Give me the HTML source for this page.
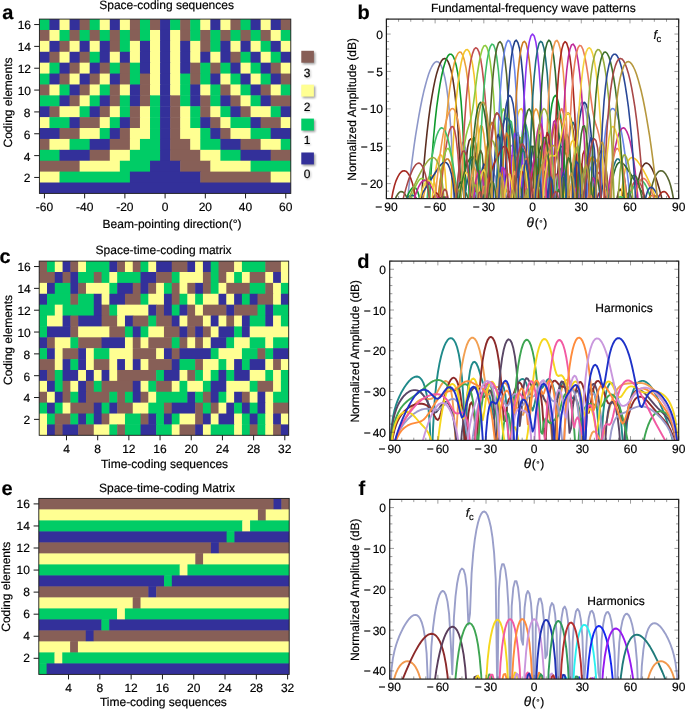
<!DOCTYPE html>
<html lang="en">
<head>
<meta charset="utf-8">
<title>Space-time-coding digital metasurfaces</title>
<style>
html,body{margin:0;padding:0;background:#fff;}
body{width:685px;height:709px;overflow:hidden;}
svg{display:block;font-family:'Liberation Sans', Arial, Helvetica, sans-serif;fill:#000;}
text{stroke:#000;stroke-width:0.18px;text-rendering:geometricPrecision;}
</style>
</head>
<body>
<svg width="685" height="709" viewBox="0 0 685 709">
<defs><filter id="bl" x="-30%" y="-30%" width="160%" height="160%"><feGaussianBlur stdDeviation="0.9"/></filter></defs>
<rect width="685" height="709" fill="#fff"/>
<g>
<rect x="39.40" y="19.10" width="10.56" height="11.39" fill="#00cc66"/>
<rect x="49.46" y="19.10" width="10.56" height="11.39" fill="#33309a"/>
<rect x="59.51" y="19.10" width="10.56" height="11.39" fill="#ffff92"/>
<rect x="69.57" y="19.10" width="10.56" height="11.39" fill="#33309a"/>
<rect x="79.62" y="19.10" width="10.56" height="11.39" fill="#875f57"/>
<rect x="89.68" y="19.10" width="10.56" height="11.39" fill="#00cc66"/>
<rect x="99.74" y="19.10" width="10.56" height="11.39" fill="#ffff92"/>
<rect x="109.79" y="19.10" width="10.56" height="11.39" fill="#33309a"/>
<rect x="119.85" y="19.10" width="10.56" height="11.39" fill="#ffff92"/>
<rect x="129.90" y="19.10" width="10.56" height="11.39" fill="#875f57"/>
<rect x="139.96" y="19.10" width="10.56" height="11.39" fill="#00cc66"/>
<rect x="150.02" y="19.10" width="10.56" height="11.39" fill="#875f57"/>
<rect x="160.07" y="19.10" width="10.56" height="11.39" fill="#33309a"/>
<rect x="170.13" y="19.10" width="10.56" height="11.39" fill="#00cc66"/>
<rect x="180.18" y="19.10" width="10.56" height="11.39" fill="#875f57"/>
<rect x="190.24" y="19.10" width="10.56" height="11.39" fill="#00cc66"/>
<rect x="200.30" y="19.10" width="10.56" height="11.39" fill="#ffff92"/>
<rect x="210.35" y="19.10" width="10.56" height="11.39" fill="#33309a"/>
<rect x="220.41" y="19.10" width="10.56" height="11.39" fill="#ffff92"/>
<rect x="230.46" y="19.10" width="10.56" height="11.39" fill="#875f57"/>
<rect x="240.52" y="19.10" width="10.56" height="11.39" fill="#00cc66"/>
<rect x="250.58" y="19.10" width="10.56" height="11.39" fill="#33309a"/>
<rect x="260.63" y="19.10" width="10.56" height="11.39" fill="#ffff92"/>
<rect x="270.69" y="19.10" width="10.56" height="11.39" fill="#33309a"/>
<rect x="280.74" y="19.10" width="10.06" height="11.39" fill="#875f57"/>
<rect x="39.40" y="29.99" width="10.56" height="11.39" fill="#875f57"/>
<rect x="49.46" y="29.99" width="10.56" height="11.39" fill="#ffff92"/>
<rect x="59.51" y="29.99" width="10.56" height="11.39" fill="#00cc66"/>
<rect x="69.57" y="29.99" width="10.56" height="11.39" fill="#875f57"/>
<rect x="79.62" y="29.99" width="10.56" height="11.39" fill="#00cc66"/>
<rect x="89.68" y="29.99" width="10.56" height="11.39" fill="#875f57"/>
<rect x="99.74" y="29.99" width="10.56" height="11.39" fill="#00cc66"/>
<rect x="109.79" y="29.99" width="10.56" height="11.39" fill="#875f57"/>
<rect x="119.85" y="29.99" width="10.56" height="11.39" fill="#00cc66"/>
<rect x="129.90" y="29.99" width="10.56" height="11.39" fill="#875f57"/>
<rect x="139.96" y="29.99" width="10.56" height="11.39" fill="#00cc66"/>
<rect x="150.02" y="29.99" width="10.56" height="11.39" fill="#ffff92"/>
<rect x="160.07" y="29.99" width="10.56" height="11.39" fill="#33309a"/>
<rect x="170.13" y="29.99" width="10.56" height="11.39" fill="#ffff92"/>
<rect x="180.18" y="29.99" width="10.56" height="11.39" fill="#875f57"/>
<rect x="190.24" y="29.99" width="10.56" height="11.39" fill="#00cc66"/>
<rect x="200.30" y="29.99" width="10.56" height="11.39" fill="#875f57"/>
<rect x="210.35" y="29.99" width="10.56" height="11.39" fill="#00cc66"/>
<rect x="220.41" y="29.99" width="10.56" height="11.39" fill="#875f57"/>
<rect x="230.46" y="29.99" width="10.56" height="11.39" fill="#00cc66"/>
<rect x="240.52" y="29.99" width="10.56" height="11.39" fill="#875f57"/>
<rect x="250.58" y="29.99" width="10.56" height="11.39" fill="#00cc66"/>
<rect x="260.63" y="29.99" width="10.56" height="11.39" fill="#875f57"/>
<rect x="270.69" y="29.99" width="10.56" height="11.39" fill="#ffff92"/>
<rect x="280.74" y="29.99" width="10.06" height="11.39" fill="#00cc66"/>
<rect x="39.40" y="40.89" width="10.56" height="11.39" fill="#ffff92"/>
<rect x="49.46" y="40.89" width="10.56" height="11.39" fill="#33309a"/>
<rect x="59.51" y="40.89" width="10.56" height="11.39" fill="#875f57"/>
<rect x="69.57" y="40.89" width="10.56" height="11.39" fill="#ffff92"/>
<rect x="79.62" y="40.89" width="10.56" height="11.39" fill="#33309a"/>
<rect x="89.68" y="40.89" width="10.56" height="11.39" fill="#ffff92"/>
<rect x="99.74" y="40.89" width="10.56" height="11.39" fill="#33309a"/>
<rect x="109.79" y="40.89" width="10.56" height="11.39" fill="#875f57"/>
<rect x="119.85" y="40.89" width="10.56" height="11.39" fill="#00cc66"/>
<rect x="129.90" y="40.89" width="10.56" height="11.39" fill="#ffff92"/>
<rect x="139.96" y="40.89" width="10.56" height="11.39" fill="#33309a"/>
<rect x="150.02" y="40.89" width="10.56" height="11.39" fill="#ffff92"/>
<rect x="160.07" y="40.89" width="10.56" height="11.39" fill="#33309a"/>
<rect x="170.13" y="40.89" width="10.56" height="11.39" fill="#ffff92"/>
<rect x="180.18" y="40.89" width="10.56" height="11.39" fill="#33309a"/>
<rect x="190.24" y="40.89" width="10.56" height="11.39" fill="#ffff92"/>
<rect x="200.30" y="40.89" width="10.56" height="11.39" fill="#875f57"/>
<rect x="210.35" y="40.89" width="10.56" height="11.39" fill="#00cc66"/>
<rect x="220.41" y="40.89" width="10.56" height="11.39" fill="#33309a"/>
<rect x="230.46" y="40.89" width="10.56" height="11.39" fill="#ffff92"/>
<rect x="240.52" y="40.89" width="10.56" height="11.39" fill="#33309a"/>
<rect x="250.58" y="40.89" width="10.56" height="11.39" fill="#ffff92"/>
<rect x="260.63" y="40.89" width="10.56" height="11.39" fill="#00cc66"/>
<rect x="270.69" y="40.89" width="10.56" height="11.39" fill="#33309a"/>
<rect x="280.74" y="40.89" width="10.06" height="11.39" fill="#ffff92"/>
<rect x="39.40" y="51.78" width="10.56" height="11.39" fill="#33309a"/>
<rect x="49.46" y="51.78" width="10.56" height="11.39" fill="#875f57"/>
<rect x="59.51" y="51.78" width="10.56" height="11.39" fill="#ffff92"/>
<rect x="69.57" y="51.78" width="10.56" height="11.39" fill="#33309a"/>
<rect x="79.62" y="51.78" width="10.56" height="11.39" fill="#875f57"/>
<rect x="89.68" y="51.78" width="10.56" height="11.39" fill="#00cc66"/>
<rect x="99.74" y="51.78" width="10.56" height="11.39" fill="#33309a"/>
<rect x="109.79" y="51.78" width="10.56" height="11.39" fill="#ffff92"/>
<rect x="119.85" y="51.78" width="10.56" height="11.39" fill="#33309a"/>
<rect x="129.90" y="51.78" width="10.56" height="11.39" fill="#ffff92"/>
<rect x="139.96" y="51.78" width="10.56" height="11.39" fill="#33309a"/>
<rect x="150.02" y="51.78" width="10.56" height="11.39" fill="#ffff92"/>
<rect x="160.07" y="51.78" width="10.56" height="11.39" fill="#33309a"/>
<rect x="170.13" y="51.78" width="10.56" height="11.39" fill="#ffff92"/>
<rect x="180.18" y="51.78" width="10.56" height="11.39" fill="#33309a"/>
<rect x="190.24" y="51.78" width="10.56" height="11.39" fill="#ffff92"/>
<rect x="200.30" y="51.78" width="10.56" height="11.39" fill="#33309a"/>
<rect x="210.35" y="51.78" width="10.56" height="11.39" fill="#ffff92"/>
<rect x="220.41" y="51.78" width="10.56" height="11.39" fill="#33309a"/>
<rect x="230.46" y="51.78" width="10.56" height="11.39" fill="#875f57"/>
<rect x="240.52" y="51.78" width="10.56" height="11.39" fill="#00cc66"/>
<rect x="250.58" y="51.78" width="10.56" height="11.39" fill="#33309a"/>
<rect x="260.63" y="51.78" width="10.56" height="11.39" fill="#ffff92"/>
<rect x="270.69" y="51.78" width="10.56" height="11.39" fill="#00cc66"/>
<rect x="280.74" y="51.78" width="10.06" height="11.39" fill="#33309a"/>
<rect x="39.40" y="62.67" width="10.56" height="11.39" fill="#ffff92"/>
<rect x="49.46" y="62.67" width="10.56" height="11.39" fill="#00cc66"/>
<rect x="59.51" y="62.67" width="10.56" height="11.39" fill="#33309a"/>
<rect x="69.57" y="62.67" width="10.56" height="11.39" fill="#875f57"/>
<rect x="79.62" y="62.67" width="10.56" height="11.39" fill="#ffff92"/>
<rect x="89.68" y="62.67" width="10.56" height="11.39" fill="#33309a"/>
<rect x="99.74" y="62.67" width="10.56" height="11.39" fill="#875f57"/>
<rect x="109.79" y="62.67" width="10.56" height="11.39" fill="#00cc66"/>
<rect x="119.85" y="62.67" width="10.56" height="11.39" fill="#875f57"/>
<rect x="129.90" y="62.67" width="10.56" height="11.39" fill="#00cc66"/>
<rect x="139.96" y="62.67" width="10.56" height="11.39" fill="#33309a"/>
<rect x="150.02" y="62.67" width="10.56" height="11.39" fill="#ffff92"/>
<rect x="160.07" y="62.67" width="10.56" height="11.39" fill="#33309a"/>
<rect x="170.13" y="62.67" width="10.56" height="11.39" fill="#ffff92"/>
<rect x="180.18" y="62.67" width="10.56" height="11.39" fill="#33309a"/>
<rect x="190.24" y="62.67" width="10.56" height="11.39" fill="#875f57"/>
<rect x="200.30" y="62.67" width="10.56" height="11.39" fill="#00cc66"/>
<rect x="210.35" y="62.67" width="10.56" height="11.39" fill="#875f57"/>
<rect x="220.41" y="62.67" width="10.56" height="11.39" fill="#00cc66"/>
<rect x="230.46" y="62.67" width="10.56" height="11.39" fill="#33309a"/>
<rect x="240.52" y="62.67" width="10.56" height="11.39" fill="#ffff92"/>
<rect x="250.58" y="62.67" width="10.56" height="11.39" fill="#00cc66"/>
<rect x="260.63" y="62.67" width="10.56" height="11.39" fill="#33309a"/>
<rect x="270.69" y="62.67" width="10.56" height="11.39" fill="#875f57"/>
<rect x="280.74" y="62.67" width="10.06" height="11.39" fill="#ffff92"/>
<rect x="39.40" y="73.57" width="10.56" height="11.39" fill="#00cc66"/>
<rect x="49.46" y="73.57" width="10.56" height="11.39" fill="#33309a"/>
<rect x="59.51" y="73.57" width="10.56" height="11.39" fill="#875f57"/>
<rect x="69.57" y="73.57" width="10.56" height="11.39" fill="#ffff92"/>
<rect x="79.62" y="73.57" width="10.56" height="11.39" fill="#33309a"/>
<rect x="89.68" y="73.57" width="10.56" height="11.39" fill="#875f57"/>
<rect x="99.74" y="73.57" width="10.56" height="11.39" fill="#ffff92"/>
<rect x="109.79" y="73.57" width="10.56" height="11.39" fill="#33309a"/>
<rect x="119.85" y="73.57" width="10.56" height="11.39" fill="#875f57"/>
<rect x="129.90" y="73.57" width="10.56" height="11.39" fill="#00cc66"/>
<rect x="139.96" y="73.57" width="10.56" height="11.39" fill="#875f57"/>
<rect x="150.02" y="73.57" width="10.56" height="11.39" fill="#ffff92"/>
<rect x="160.07" y="73.57" width="10.56" height="11.39" fill="#33309a"/>
<rect x="170.13" y="73.57" width="10.56" height="11.39" fill="#ffff92"/>
<rect x="180.18" y="73.57" width="10.56" height="11.39" fill="#00cc66"/>
<rect x="190.24" y="73.57" width="10.56" height="11.39" fill="#875f57"/>
<rect x="200.30" y="73.57" width="10.56" height="11.39" fill="#00cc66"/>
<rect x="210.35" y="73.57" width="10.56" height="11.39" fill="#33309a"/>
<rect x="220.41" y="73.57" width="10.56" height="11.39" fill="#ffff92"/>
<rect x="230.46" y="73.57" width="10.56" height="11.39" fill="#00cc66"/>
<rect x="240.52" y="73.57" width="10.56" height="11.39" fill="#33309a"/>
<rect x="250.58" y="73.57" width="10.56" height="11.39" fill="#ffff92"/>
<rect x="260.63" y="73.57" width="10.56" height="11.39" fill="#00cc66"/>
<rect x="270.69" y="73.57" width="10.56" height="11.39" fill="#33309a"/>
<rect x="280.74" y="73.57" width="10.06" height="11.39" fill="#875f57"/>
<rect x="39.40" y="84.46" width="10.56" height="11.39" fill="#875f57"/>
<rect x="49.46" y="84.46" width="10.56" height="11.39" fill="#ffff92"/>
<rect x="59.51" y="84.46" width="10.56" height="11.39" fill="#00cc66"/>
<rect x="69.57" y="84.46" width="10.56" height="11.39" fill="#33309a"/>
<rect x="79.62" y="84.46" width="10.56" height="11.39" fill="#875f57"/>
<rect x="89.68" y="84.46" width="10.56" height="11.39" fill="#ffff92"/>
<rect x="99.74" y="84.46" width="10.56" height="11.39" fill="#00cc66"/>
<rect x="109.79" y="84.46" width="10.56" height="11.39" fill="#875f57"/>
<rect x="119.85" y="84.46" width="10.56" height="11.39" fill="#ffff92"/>
<rect x="129.90" y="84.46" width="10.56" height="11.39" fill="#33309a"/>
<rect x="139.96" y="84.46" width="10.56" height="11.39" fill="#875f57"/>
<rect x="150.02" y="84.46" width="10.56" height="11.39" fill="#ffff92"/>
<rect x="160.07" y="84.46" width="10.56" height="11.39" fill="#33309a"/>
<rect x="170.13" y="84.46" width="10.56" height="11.39" fill="#ffff92"/>
<rect x="180.18" y="84.46" width="10.56" height="11.39" fill="#00cc66"/>
<rect x="190.24" y="84.46" width="10.56" height="11.39" fill="#33309a"/>
<rect x="200.30" y="84.46" width="10.56" height="11.39" fill="#ffff92"/>
<rect x="210.35" y="84.46" width="10.56" height="11.39" fill="#00cc66"/>
<rect x="220.41" y="84.46" width="10.56" height="11.39" fill="#875f57"/>
<rect x="230.46" y="84.46" width="10.56" height="11.39" fill="#ffff92"/>
<rect x="240.52" y="84.46" width="10.56" height="11.39" fill="#00cc66"/>
<rect x="250.58" y="84.46" width="10.56" height="11.39" fill="#33309a"/>
<rect x="260.63" y="84.46" width="10.56" height="11.39" fill="#875f57"/>
<rect x="270.69" y="84.46" width="10.56" height="11.39" fill="#ffff92"/>
<rect x="280.74" y="84.46" width="10.06" height="11.39" fill="#00cc66"/>
<rect x="39.40" y="95.36" width="20.61" height="11.39" fill="#00cc66"/>
<rect x="59.51" y="95.36" width="10.56" height="11.39" fill="#33309a"/>
<rect x="69.57" y="95.36" width="10.56" height="11.39" fill="#875f57"/>
<rect x="79.62" y="95.36" width="10.56" height="11.39" fill="#ffff92"/>
<rect x="89.68" y="95.36" width="10.56" height="11.39" fill="#00cc66"/>
<rect x="99.74" y="95.36" width="10.56" height="11.39" fill="#33309a"/>
<rect x="109.79" y="95.36" width="10.56" height="11.39" fill="#875f57"/>
<rect x="119.85" y="95.36" width="10.56" height="11.39" fill="#00cc66"/>
<rect x="129.90" y="95.36" width="10.56" height="11.39" fill="#33309a"/>
<rect x="139.96" y="95.36" width="10.56" height="11.39" fill="#875f57"/>
<rect x="150.02" y="95.36" width="10.56" height="11.39" fill="#00cc66"/>
<rect x="160.07" y="95.36" width="10.56" height="11.39" fill="#33309a"/>
<rect x="170.13" y="95.36" width="10.56" height="11.39" fill="#875f57"/>
<rect x="180.18" y="95.36" width="10.56" height="11.39" fill="#00cc66"/>
<rect x="190.24" y="95.36" width="10.56" height="11.39" fill="#33309a"/>
<rect x="200.30" y="95.36" width="10.56" height="11.39" fill="#875f57"/>
<rect x="210.35" y="95.36" width="10.56" height="11.39" fill="#00cc66"/>
<rect x="220.41" y="95.36" width="10.56" height="11.39" fill="#33309a"/>
<rect x="230.46" y="95.36" width="10.56" height="11.39" fill="#875f57"/>
<rect x="240.52" y="95.36" width="10.56" height="11.39" fill="#ffff92"/>
<rect x="250.58" y="95.36" width="10.56" height="11.39" fill="#00cc66"/>
<rect x="260.63" y="95.36" width="10.56" height="11.39" fill="#33309a"/>
<rect x="270.69" y="95.36" width="20.11" height="11.39" fill="#875f57"/>
<rect x="39.40" y="106.25" width="10.56" height="11.39" fill="#33309a"/>
<rect x="49.46" y="106.25" width="10.56" height="11.39" fill="#875f57"/>
<rect x="59.51" y="106.25" width="20.61" height="11.39" fill="#ffff92"/>
<rect x="79.62" y="106.25" width="10.56" height="11.39" fill="#00cc66"/>
<rect x="89.68" y="106.25" width="10.56" height="11.39" fill="#33309a"/>
<rect x="99.74" y="106.25" width="10.56" height="11.39" fill="#875f57"/>
<rect x="109.79" y="106.25" width="10.56" height="11.39" fill="#ffff92"/>
<rect x="119.85" y="106.25" width="10.56" height="11.39" fill="#00cc66"/>
<rect x="129.90" y="106.25" width="10.56" height="11.39" fill="#875f57"/>
<rect x="139.96" y="106.25" width="10.56" height="11.39" fill="#ffff92"/>
<rect x="150.02" y="106.25" width="10.56" height="11.39" fill="#00cc66"/>
<rect x="160.07" y="106.25" width="10.56" height="11.39" fill="#33309a"/>
<rect x="170.13" y="106.25" width="10.56" height="11.39" fill="#875f57"/>
<rect x="180.18" y="106.25" width="10.56" height="11.39" fill="#ffff92"/>
<rect x="190.24" y="106.25" width="10.56" height="11.39" fill="#00cc66"/>
<rect x="200.30" y="106.25" width="10.56" height="11.39" fill="#875f57"/>
<rect x="210.35" y="106.25" width="10.56" height="11.39" fill="#ffff92"/>
<rect x="220.41" y="106.25" width="10.56" height="11.39" fill="#00cc66"/>
<rect x="230.46" y="106.25" width="10.56" height="11.39" fill="#33309a"/>
<rect x="240.52" y="106.25" width="10.56" height="11.39" fill="#875f57"/>
<rect x="250.58" y="106.25" width="20.61" height="11.39" fill="#ffff92"/>
<rect x="270.69" y="106.25" width="10.56" height="11.39" fill="#00cc66"/>
<rect x="280.74" y="106.25" width="10.06" height="11.39" fill="#33309a"/>
<rect x="39.40" y="117.14" width="10.56" height="11.39" fill="#ffff92"/>
<rect x="49.46" y="117.14" width="20.61" height="11.39" fill="#00cc66"/>
<rect x="69.57" y="117.14" width="10.56" height="11.39" fill="#33309a"/>
<rect x="79.62" y="117.14" width="20.61" height="11.39" fill="#875f57"/>
<rect x="99.74" y="117.14" width="10.56" height="11.39" fill="#ffff92"/>
<rect x="109.79" y="117.14" width="10.56" height="11.39" fill="#00cc66"/>
<rect x="119.85" y="117.14" width="10.56" height="11.39" fill="#33309a"/>
<rect x="129.90" y="117.14" width="10.56" height="11.39" fill="#875f57"/>
<rect x="139.96" y="117.14" width="10.56" height="11.39" fill="#ffff92"/>
<rect x="150.02" y="117.14" width="10.56" height="11.39" fill="#00cc66"/>
<rect x="160.07" y="117.14" width="10.56" height="11.39" fill="#33309a"/>
<rect x="170.13" y="117.14" width="10.56" height="11.39" fill="#875f57"/>
<rect x="180.18" y="117.14" width="10.56" height="11.39" fill="#ffff92"/>
<rect x="190.24" y="117.14" width="10.56" height="11.39" fill="#00cc66"/>
<rect x="200.30" y="117.14" width="10.56" height="11.39" fill="#33309a"/>
<rect x="210.35" y="117.14" width="10.56" height="11.39" fill="#875f57"/>
<rect x="220.41" y="117.14" width="10.56" height="11.39" fill="#ffff92"/>
<rect x="230.46" y="117.14" width="20.61" height="11.39" fill="#00cc66"/>
<rect x="250.58" y="117.14" width="10.56" height="11.39" fill="#33309a"/>
<rect x="260.63" y="117.14" width="20.61" height="11.39" fill="#875f57"/>
<rect x="280.74" y="117.14" width="10.06" height="11.39" fill="#ffff92"/>
<rect x="39.40" y="128.04" width="20.61" height="11.39" fill="#33309a"/>
<rect x="59.51" y="128.04" width="20.61" height="11.39" fill="#875f57"/>
<rect x="79.62" y="128.04" width="20.61" height="11.39" fill="#ffff92"/>
<rect x="99.74" y="128.04" width="10.56" height="11.39" fill="#00cc66"/>
<rect x="109.79" y="128.04" width="10.56" height="11.39" fill="#33309a"/>
<rect x="119.85" y="128.04" width="10.56" height="11.39" fill="#875f57"/>
<rect x="129.90" y="128.04" width="20.61" height="11.39" fill="#ffff92"/>
<rect x="150.02" y="128.04" width="10.56" height="11.39" fill="#00cc66"/>
<rect x="160.07" y="128.04" width="10.56" height="11.39" fill="#33309a"/>
<rect x="170.13" y="128.04" width="10.56" height="11.39" fill="#875f57"/>
<rect x="180.18" y="128.04" width="20.61" height="11.39" fill="#ffff92"/>
<rect x="200.30" y="128.04" width="10.56" height="11.39" fill="#00cc66"/>
<rect x="210.35" y="128.04" width="10.56" height="11.39" fill="#33309a"/>
<rect x="220.41" y="128.04" width="10.56" height="11.39" fill="#875f57"/>
<rect x="230.46" y="128.04" width="20.61" height="11.39" fill="#ffff92"/>
<rect x="250.58" y="128.04" width="20.61" height="11.39" fill="#00cc66"/>
<rect x="270.69" y="128.04" width="20.11" height="11.39" fill="#33309a"/>
<rect x="39.40" y="138.93" width="10.56" height="11.39" fill="#875f57"/>
<rect x="49.46" y="138.93" width="20.61" height="11.39" fill="#ffff92"/>
<rect x="69.57" y="138.93" width="20.61" height="11.39" fill="#00cc66"/>
<rect x="89.68" y="138.93" width="20.61" height="11.39" fill="#33309a"/>
<rect x="109.79" y="138.93" width="20.61" height="11.39" fill="#875f57"/>
<rect x="129.90" y="138.93" width="10.56" height="11.39" fill="#ffff92"/>
<rect x="139.96" y="138.93" width="20.61" height="11.39" fill="#00cc66"/>
<rect x="160.07" y="138.93" width="10.56" height="11.39" fill="#33309a"/>
<rect x="170.13" y="138.93" width="20.61" height="11.39" fill="#875f57"/>
<rect x="190.24" y="138.93" width="10.56" height="11.39" fill="#ffff92"/>
<rect x="200.30" y="138.93" width="20.61" height="11.39" fill="#00cc66"/>
<rect x="220.41" y="138.93" width="20.61" height="11.39" fill="#33309a"/>
<rect x="240.52" y="138.93" width="20.61" height="11.39" fill="#875f57"/>
<rect x="260.63" y="138.93" width="20.61" height="11.39" fill="#ffff92"/>
<rect x="280.74" y="138.93" width="10.06" height="11.39" fill="#00cc66"/>
<rect x="39.40" y="149.82" width="20.61" height="11.39" fill="#00cc66"/>
<rect x="59.51" y="149.82" width="30.67" height="11.39" fill="#33309a"/>
<rect x="89.68" y="149.82" width="20.61" height="11.39" fill="#875f57"/>
<rect x="109.79" y="149.82" width="20.61" height="11.39" fill="#ffff92"/>
<rect x="129.90" y="149.82" width="30.67" height="11.39" fill="#00cc66"/>
<rect x="160.07" y="149.82" width="10.56" height="11.39" fill="#33309a"/>
<rect x="170.13" y="149.82" width="30.67" height="11.39" fill="#875f57"/>
<rect x="200.30" y="149.82" width="20.61" height="11.39" fill="#ffff92"/>
<rect x="220.41" y="149.82" width="20.61" height="11.39" fill="#00cc66"/>
<rect x="240.52" y="149.82" width="30.67" height="11.39" fill="#33309a"/>
<rect x="270.69" y="149.82" width="20.11" height="11.39" fill="#875f57"/>
<rect x="39.40" y="160.72" width="40.72" height="11.39" fill="#875f57"/>
<rect x="79.62" y="160.72" width="40.72" height="11.39" fill="#ffff92"/>
<rect x="119.85" y="160.72" width="30.67" height="11.39" fill="#00cc66"/>
<rect x="150.02" y="160.72" width="30.67" height="11.39" fill="#33309a"/>
<rect x="180.18" y="160.72" width="30.67" height="11.39" fill="#875f57"/>
<rect x="210.35" y="160.72" width="40.72" height="11.39" fill="#ffff92"/>
<rect x="250.58" y="160.72" width="40.22" height="11.39" fill="#00cc66"/>
<rect x="39.40" y="171.61" width="20.61" height="11.39" fill="#ffff92"/>
<rect x="59.51" y="171.61" width="70.89" height="11.39" fill="#00cc66"/>
<rect x="129.90" y="171.61" width="70.89" height="11.39" fill="#33309a"/>
<rect x="200.30" y="171.61" width="70.89" height="11.39" fill="#875f57"/>
<rect x="270.69" y="171.61" width="20.11" height="11.39" fill="#ffff92"/>
<rect x="39.40" y="182.51" width="251.40" height="10.89" fill="#33309a"/>
</g>
<rect x="39.40" y="19.10" width="251.40" height="174.30" fill="none" stroke="#1a1a1a" stroke-width="0.9"/>
<line x1="34.20" y1="177.45" x2="39.40" y2="177.45" stroke="#1a1a1a" stroke-width="1"/>
<text x="30.50" y="182.44" text-anchor="end" font-size="12.0">2</text>
<line x1="34.20" y1="155.61" x2="39.40" y2="155.61" stroke="#1a1a1a" stroke-width="1"/>
<text x="30.50" y="160.53" text-anchor="end" font-size="12.0">4</text>
<line x1="34.20" y1="133.76" x2="39.40" y2="133.76" stroke="#1a1a1a" stroke-width="1"/>
<text x="30.50" y="138.61" text-anchor="end" font-size="12.0">6</text>
<line x1="34.20" y1="111.92" x2="39.40" y2="111.92" stroke="#1a1a1a" stroke-width="1"/>
<text x="30.50" y="116.70" text-anchor="end" font-size="12.0">8</text>
<line x1="34.20" y1="90.08" x2="39.40" y2="90.08" stroke="#1a1a1a" stroke-width="1"/>
<text x="31.00" y="94.79" text-anchor="end" font-size="12.0">10</text>
<line x1="34.20" y1="68.23" x2="39.40" y2="68.23" stroke="#1a1a1a" stroke-width="1"/>
<text x="31.00" y="72.87" text-anchor="end" font-size="12.0">12</text>
<line x1="34.20" y1="46.39" x2="39.40" y2="46.39" stroke="#1a1a1a" stroke-width="1"/>
<text x="31.00" y="50.96" text-anchor="end" font-size="12.0">14</text>
<line x1="34.20" y1="24.55" x2="39.40" y2="24.55" stroke="#1a1a1a" stroke-width="1"/>
<text x="31.00" y="29.05" text-anchor="end" font-size="12.0">16</text>
<line x1="44.43" y1="193.40" x2="44.43" y2="198.40" stroke="#1a1a1a" stroke-width="1"/>
<text x="44.43" y="210.60" text-anchor="middle" font-size="12.0">-60</text>
<line x1="84.65" y1="193.40" x2="84.65" y2="198.40" stroke="#1a1a1a" stroke-width="1"/>
<text x="84.65" y="210.60" text-anchor="middle" font-size="12.0">-40</text>
<line x1="124.88" y1="193.40" x2="124.88" y2="198.40" stroke="#1a1a1a" stroke-width="1"/>
<text x="124.88" y="210.60" text-anchor="middle" font-size="12.0">-20</text>
<line x1="165.10" y1="193.40" x2="165.10" y2="198.40" stroke="#1a1a1a" stroke-width="1"/>
<text x="165.10" y="210.60" text-anchor="middle" font-size="12.0">0</text>
<line x1="205.32" y1="193.40" x2="205.32" y2="198.40" stroke="#1a1a1a" stroke-width="1"/>
<text x="205.32" y="210.60" text-anchor="middle" font-size="12.0">20</text>
<line x1="245.55" y1="193.40" x2="245.55" y2="198.40" stroke="#1a1a1a" stroke-width="1"/>
<text x="245.55" y="210.60" text-anchor="middle" font-size="12.0">40</text>
<line x1="285.77" y1="193.40" x2="285.77" y2="198.40" stroke="#1a1a1a" stroke-width="1"/>
<text x="285.77" y="210.60" text-anchor="middle" font-size="12.0">60</text>
<text x="11.80" y="102.50" text-anchor="middle" font-size="12.0" transform="rotate(-90 11.80 102.50)">Coding elements</text>
<text x="166.60" y="9.30" text-anchor="middle" font-size="12.0">Space-coding sequences</text>
<text x="172.00" y="227.50" text-anchor="middle" font-size="12.0">Beam-pointing direction(°)</text>
<rect x="302.7" y="52.3" width="12.6" height="11.9" fill="#000" opacity="0.38" filter="url(#bl)"/>
<rect x="301.3" y="50.8" width="12.6" height="11.9" fill="#875f57"/>
<text x="308.0" y="77.6" text-anchor="middle" font-size="12.0" fill="#000" opacity="0.3" filter="url(#bl)">3</text>
<text x="307.00" y="76.60" text-anchor="middle" font-size="12.0">3</text>
<rect x="302.7" y="86.2" width="12.6" height="11.9" fill="#000" opacity="0.38" filter="url(#bl)"/>
<rect x="301.3" y="84.7" width="12.6" height="11.9" fill="#ffff92"/>
<text x="308.0" y="111.5" text-anchor="middle" font-size="12.0" fill="#000" opacity="0.3" filter="url(#bl)">2</text>
<text x="307.00" y="110.50" text-anchor="middle" font-size="12.0">2</text>
<rect x="302.7" y="120.1" width="12.6" height="11.9" fill="#000" opacity="0.38" filter="url(#bl)"/>
<rect x="301.3" y="118.6" width="12.6" height="11.9" fill="#00cc66"/>
<text x="308.0" y="145.4" text-anchor="middle" font-size="12.0" fill="#000" opacity="0.3" filter="url(#bl)">1</text>
<text x="307.00" y="144.40" text-anchor="middle" font-size="12.0">1</text>
<rect x="302.7" y="154.0" width="12.6" height="11.9" fill="#000" opacity="0.38" filter="url(#bl)"/>
<rect x="301.3" y="152.5" width="12.6" height="11.9" fill="#33309a"/>
<text x="308.0" y="179.3" text-anchor="middle" font-size="12.0" fill="#000" opacity="0.3" filter="url(#bl)">0</text>
<text x="307.00" y="178.30" text-anchor="middle" font-size="12.0">0</text>
<clipPath id="cb"><rect x="386.40" y="19.10" width="292.30" height="179.50"/></clipPath>
<g clip-path="url(#cb)" fill="none" stroke-width="1.6" stroke-linejoin="round" stroke-linecap="round">
<path d="M407.3 202.6L409.1 185.2L410.8 171.2L412.4 158.3L414 146.4L415.6 135.4L417.3 125.2L418.9 115.7L420.5 107L422.1 99L423.7 91.8L425.4 85.2L427 79.4L428.6 74.3L430.2 70L431.9 66.5L433.5 63.9L435.1 62.2L436.7 61.6L438.4 62L440 63.7L441.6 66.7L443.2 71.3L444.9 77.9L446.5 86.7L448.1 98.6L449.7 114.6L451.4 137L453 171.5L453.7 202.6M457.5 202.6L457.9 186.4L459.5 160L461.1 147.1L462.7 142.2L464.3 143.5L466 151.1L467.6 166.2L469.2 193.2L469.5 202.6M474.8 202.6L475.7 184.5L477.3 169.9L479 164.9L480.6 167.8L482.2 179.2L483.8 202.6M489.9 202.6L490.3 193.9L492 178.3L493.6 173.1L495.2 176.4L496.8 189.4L497.6 202.6M503.6 202.6L504.9 178.8L506.6 162.1L508.2 152.4L509.8 147.3L511.4 145.5L513.1 146.1L514.7 148.2L516.3 151.1L521.2 160.4L522.8 164.2L524.4 169.6L526.1 178L527.7 191.4L528.5 202.6M537.3 202.6L537.4 200.9L539 194.9L540.7 199L541 202.6M549.8 202.6L550.4 195.7L552 189.9L553.7 195L554.3 202.6M561.4 202.6L561.8 193.9L563.4 177.7L565 172.9L566.7 178.9L568.3 199.9L568.4 202.6M572.7 202.6L573.1 184.5L574.8 149.5L576.4 128.2L578 114.6L579.6 106.3L581.3 102.4L582.9 102.2L584.5 105.5L586.1 112.5L587.8 123.4L589.4 139.1L591 161.1L592.6 193.3L592.9 202.6" stroke="#8d97c9"/>
<path d="M404 202.6L404.3 202.4L405.9 202.6M421.4 202.6L422.1 190.4L423.7 167.6L425.4 148.8L427 132.8L428.6 119.1L430.2 107.1L431.9 96.7L433.5 87.7L435.1 79.9L436.7 73.4L438.4 68L440 63.8L441.6 60.7L443.2 58.9L444.9 58.4L446.5 59.2L448.1 61.6L449.7 65.6L451.4 71.6L453 79.8L454.6 91L456.2 105.9L457.9 126.3L459.5 155.9L461 202.6M464 202.6L464.3 191L466 162.4L467.6 147.6L469.2 140.5L470.8 138.8L472.5 141.3L474.1 147.2L475.7 156L477.3 166.7L482.4 202.6M506.1 202.6L506.6 199.1L508.2 192.5L509.8 191.5L511.4 194.6L513.1 199.8L514.2 202.6M531.5 202.6L532.5 191.7L534.2 179.6L535.8 169.6L537.4 160.6L539 152.9L540.7 147.1L542.3 144.1L543.9 144.4L545.5 148.6L547.2 157.5L548.8 172.2L550.4 194.7L550.8 202.6M555.8 202.6L556.9 183.5L558.5 163.1L560.2 147.4L561.8 134.9L563.4 125.2L565 118.2L566.7 114.1L568.3 113L569.9 115.1L571.5 120.9L573.1 131L574.8 146.6L576.4 169.4L578 202.6M582.8 202.6L582.9 201.3L584.5 191.7L586.1 192.9L587.4 202.6M594.5 202.6L595.9 179.3L597.5 163.6L599.1 154.7L600.8 150.9L602.4 151.4L604 156.1L605.6 165L607.2 178.7L608.9 198L609.2 202.6M616.4 202.6L617 198.3L618.6 191.3L620.2 189.2L621.9 191.6L623.5 198.5L624 202.6M635.4 202.6L636.5 192.7L638.1 182.1L639.7 174.5L641.4 169.2L643 165.7L644.6 163.8L646.2 163.1L647.8 163.5L649.5 164.9L651.1 167.2L652.7 170.2L654.3 174L656 178.3L657.6 183.2L659.2 188.6L660.8 194.4L662.9 202.6" stroke="#5c2f22"/>
<path d="M405 202.6L405.9 200L407.5 195.9L409.1 192.4L410.8 189.7L412.4 187.9L414 187.2L415.6 188L417.3 190.5L418.9 195.5L420.2 202.6M429.5 202.6L430.2 185.8L431.9 159L433.5 138.2L435.1 121.3L436.7 107L438.4 94.9L440 84.6L441.6 76L443.2 68.8L444.9 63L446.5 58.6L448.1 55.7L449.7 54.2L451.4 54.2L453 56L454.6 59.6L456.2 65.4L457.9 73.8L459.5 85.5L461.1 101.7L462.7 124.8L464.3 161L465.2 202.6M468.4 202.6L469.2 172.4L470.8 149L472.5 139L474.1 137.5L475.7 143.5L477.3 157.8L479 184.9L479.4 202.6M483.9 202.6L485.5 175.8L487.1 163.4L488.7 161.4L490.3 168.6L492 187.3L492.6 202.6M498.1 202.6L498.4 194.2L500.1 177.2L501.7 172.5L503.3 178.4L504.9 197L505.2 202.6M511.1 202.6L511.4 195L513.1 179.8L514.7 177L516.3 185.8L517.4 202.6M523.3 202.6L524.4 184.8L526.1 174.6L527.7 176.3L529.3 191.1L529.8 202.6M535.1 202.6L535.8 184.1L537.4 165.8L539 160.2L540.7 166.2L542.3 188.1L542.7 202.6M546.4 202.6L547.2 168.9L548.8 135.8L550.4 116L552 104L553.7 97.4L555.3 95.4L556.9 97.3L558.5 103.1L560.2 112.8L561.8 126.8L563.4 145.8L565 171.6L566.4 202.6" stroke="#0f9a2c"/>
<path d="M422.6 202.6L423.7 195.7L425.4 187.8L427 181.6L428.6 177.4L430.2 175.2L431.9 175.5L433.5 178.6L435.1 185.2L436.7 196.1L437.5 202.6M440.6 202.6L441.6 189.3L443.2 162L444.9 138.2L446.5 118.6L448.1 102.4L449.7 89L451.4 77.9L453 69L454.6 62L456.2 56.8L457.9 53.5L459.5 52L461.1 52.4L462.7 55.1L464.3 60.1L466 67.9L467.6 79.2L469.2 95.2L470.8 117.9L472.5 151.5L474.1 194.5L475.7 180.4L477.3 149.7L479 132.9L480.6 125.9L482.2 126.4L483.8 134L485.5 150.1L487.1 179.5L487.7 202.6M491.7 202.6L492 194.7L493.6 169.2L495.2 158.9L496.8 157.9L498.4 164.7L500.1 177.8L501.7 193.1L503.3 199.5L504.9 194.2L506.6 189.4L508.2 193.5L509 202.6M514.4 202.6L514.7 193.9L516.3 162.8L517.9 145.7L519.6 137.7L521.2 137.5L522.8 145.2L524.4 162.1L526.1 186.7L527.7 188.1L529.3 159.1L530.9 135.3L532.5 120.3L534.2 111.9L535.8 108.9L537.4 110.5L539 116.2L540.7 125.4L542.3 137.3L543.9 150.4L545.5 162.2L547.2 171.2L548.8 179.1L550.4 189.1L551.8 202.6M568.7 202.6L569.9 191.4L571.5 183.4L573.1 181.5L574.8 185.2L576.4 194.6L577.3 202.6M582.9 202.6L584.5 186.2L586.1 173.8L587.8 165.3L589.4 160.1L591 157.4L592.6 156.7L594.3 157.5L595.9 159.6L597.5 162.7L599.1 166.9L600.8 172.3L602.4 179L604 187.2L606.6 202.6M617.3 202.6L618.6 199.8L620.2 197.7L621.9 197L623.5 197.4L625.1 198.4L626.7 199.5L628.4 200.5L630 201.1L631.6 201.1L633.2 200.7L636.5 199.6L638.1 199.5L639.7 199.8L641.4 200.6L643 202.2L643.3 202.6" stroke="#eba038"/>
<path d="M431.9 202.6L433.5 186.2L435.1 173.5L436.7 164.3L438.4 158.1L440 154.9L441.6 155.2L443.2 159.7L444.9 170.1L446.5 191L446.9 202.6M451 202.6L451.4 190.5L453 147.9L454.6 120.3L456.2 100.1L457.9 84.6L459.5 72.6L461.1 63.3L462.7 56.5L464.3 52L466 49.7L467.6 49.6L469.2 51.8L470.8 56.5L472.5 64.1L474.1 75.2L475.7 90.8L477.3 112.9L479 146.4L480.4 202.6M483.3 202.6L483.8 180.6L485.5 155.6L487.1 146.6L488.7 147.7L490.3 157.7L492 179L492.9 202.6M498.1 202.6L498.4 193.5L500.1 177.4L501.7 173.3L503.3 179.1L504.9 196.8L505.2 202.6M510.5 202.6L511.4 177.1L513.1 151.5L514.7 134.4L516.3 122.4L517.9 114.4L519.6 109.8L521.2 108.5L522.8 110.7L524.4 116.8L526.1 127.6L527.7 144.7L529.3 171.7L530.3 202.6M535.7 202.6L535.8 200L537.4 189.1L539 190.9L540.5 202.6M563.4 202.6L565 185.3L566.7 169.7L568.3 157L569.9 147.7L571.5 142L573.1 140.2L574.8 142.4L576.4 149.3L578 161.9L579.6 182.7L580.5 202.6M587.2 202.6L587.8 194.7L589.4 185.4L591 184.5L592.6 191L593.9 202.6M603.4 202.6L604 197.4L605.6 190.2L607.2 189.1L608.9 193.5L610.3 202.6M620.7 202.6L621.9 190.2L623.5 178.2L625.1 169.8L626.7 164.2L628.4 160.5L630 158.4L631.6 157.6L633.2 157.7L634.9 158.6L636.5 160.1L638.1 162.1L639.7 164.4L643 169.7L646.2 175.7L647.8 178.9L651.1 186L654.3 194L657.4 202.6" stroke="#f4c52b"/>
<path d="M438.6 202.6L440 194L443.2 167.4L444.9 154.8L446.5 144.2L448.1 135.9L449.7 130L451.4 126.8L453 126.6L454.6 130.2L456.2 138.6L457.9 153.8L459.5 177.5L461.1 190.7L464.3 126.7L466 102.3L467.6 84.2L469.2 70.6L470.8 60.6L472.5 53.6L474.1 49.4L475.7 47.7L477.3 48.6L479 52.2L480.6 58.7L482.2 68.7L483.8 82.6L485.5 101.7L488.7 152.1L490.3 154.4L492 137.8L493.6 123.8L495.2 115.8L496.8 112.9L498.4 114L500.1 118.3L501.7 124.9L504.9 141.1L506.6 148.2L508.2 153.2L509.8 155.6L511.4 155.9L513.1 155.4L514.7 155.6L516.3 157.9L517.9 163.5L519.6 173.5L521.2 189.6L522.1 202.6M536.6 202.6L537.4 188.4L539 172.9L540.7 165.6L542.3 165.4L543.9 172.6L545.5 189L546.3 202.6M551.9 202.6L552 199.4L553.7 181.8L555.3 174.2L556.9 174.2L558.5 181L560.2 194.1L560.9 202.6M576 202.6L576.4 197.7L578 182L579.6 172.8L581.3 169.6L582.9 172.1L584.5 180.9L586.1 198.2L586.4 202.6M593.8 202.6L594.3 196L595.9 181.6L597.5 174.3L599.1 172.2L600.8 174.4L602.4 180.5L604 190.2L605.6 202.6M628.4 202.6L630 194.6L631.6 188.4L633.2 184L634.9 181.3L636.5 180.3L638.1 180.8L639.7 182.6L641.4 185.8L643 190.4L644.6 196.2L646 202.6" stroke="#c04f4f"/>
<path d="M410.2 202.6L412.4 195.1L414 190.3L415.6 186.2L417.3 182.9L418.9 180.4L420.5 178.8L422.1 178.4L423.7 179.3L425.4 181.6L427 185.8L428.6 192L430.6 202.6M437.8 202.6L440 182.6L441.6 170L443.2 160.2L444.9 153.4L446.5 149.4L448.1 148.3L449.7 150.6L451.4 156.8L453 168.4L454.6 188.2L455.3 202.6M460.4 202.6L461.1 185L462.7 160.8L464.3 145.5L466 135.8L467.6 129.4L469.2 124.6L470.8 118.9L472.5 110.3L474.1 98.8L477.3 74L479 63.5L480.6 55.2L482.2 49.3L483.8 46L485.5 45.4L487.1 47.7L488.7 53.2L490.3 62.5L492 76.6L493.6 96.8L496.8 153.8L498.4 148.1L500.1 127L501.7 113.7L503.3 108.7L504.9 110.9L506.6 120.1L508.2 137L509.8 162.1L511.4 184.1L513.1 174.8L514.7 156.2L516.3 145.4L517.9 143.1L519.6 148.7L521.2 162.9L522.8 188.4L523.4 202.6M528.8 202.6L529.3 195.9L530.9 189L532.5 191.7L534.2 202.6M550.4 202.6L552 199L553.2 202.6M562.2 202.6L563.4 190.6L565 183.4L566.7 183.6L568.3 191L569.5 202.6M576.6 202.6L578 191.8L579.6 186L581.3 186.5L582.9 193.1L584.1 202.6" stroke="#8fcb3f"/>
<path d="M404.1 202.6L404.3 202.4L405.9 201.8L407.5 202.2L407.9 202.6M426.8 202.6L428.6 183.1L430.2 169.1L431.9 157.7L433.5 148.5L435.1 141.1L436.7 135.5L438.4 131.4L440 128.8L441.6 127.8L443.2 128.4L444.9 130.5L446.5 134.2L448.1 139.6L449.7 146.5L451.4 154.9L453 164.5L456.2 185.1L457.9 195.8L458.8 202.6M467.9 202.6L469.2 188.8L470.8 179.2L472.5 177.5L474.1 185.9L475.2 202.6M478.7 202.6L480.6 144.2L482.2 112.6L483.8 89.9L485.5 73L487.1 60.6L488.7 51.8L490.3 46.4L492 44.1L493.6 45L495.2 49.3L496.8 57.5L498.4 70.7L500.1 90.5L501.7 121.7L503.3 179.9L504.2 202.6M505.4 202.6L506.6 154.3L508.2 129.3L509.8 120.4L511.4 121.9L513.1 133.3L514.7 157.4L516.3 202.6M518.5 202.6L519.6 168.2L521.2 141.8L522.8 128.6L524.4 123.8L526.1 125.2L527.7 131.9L529.3 143L530.9 156.7L532.5 169.1L534.2 176.4L535.8 179.3L537.4 182.7L539 189.9L540.7 202.6M555.8 202.6L556.9 188.8L558.5 176.3L560.2 169.6L561.8 167.7L563.4 169.8L565 175.4L566.7 184.2L568.3 196.3L568.9 202.6M579.5 202.6L581.3 185.9L582.9 176.4L584.5 171.6L586.1 170.9L587.8 174.4L589.4 182.1L591 194.7L591.7 202.6M615.5 202.6L617 199.4L618.6 197.4L620.2 196.8L621.9 197.2L623.5 198L625.1 198.5L626.7 198.2L628.4 196.8L630 194.3L633.2 187.8L634.9 184.8L636.5 182.4L638.1 180.9L639.7 180.2L641.4 180.4L643 181.5L644.6 183.5L646.2 186.3L647.8 190L649.5 194.4L651.1 199.6L651.9 202.6" stroke="#3fbf68"/>
<path d="M394.1 202.6L394.5 201.2L396.1 197L397.8 194.1L399.4 192.3L401 191.6L402.6 191.9L404.3 193.2L405.9 195.6L407.5 199.3L408.6 202.6M463.4 202.6L464.3 196.2L466 192.8L467.6 197.2L468.2 202.6M475.4 202.6L475.7 193.7L477.3 169L479 155.3L480.6 150.3L482.2 154.2L483.8 171.4L484.8 202.6M487.9 202.6L488.7 154.8L490.3 114.1L492 88L493.6 69.7L495.2 56.8L496.8 48.2L498.4 43.2L500.1 41.7L501.7 43.7L503.3 49.4L504.9 59.4L506.6 74.7L508.2 97.7L509.8 134.3L511.2 202.6M513.4 202.6L514.7 155.4L516.3 136.4L517.9 132.5L519.6 139.7L521.2 159.1L522.9 202.6M526.6 202.6L527.7 176.5L529.3 161.6L530.9 159.8L532.5 169.1L534.2 192.7L534.5 202.6M539.6 202.6L540.7 183.8L542.3 172L543.9 171.2L545.5 180.8L547.1 202.6M552.7 202.6L553.7 181.9L555.3 163.7L556.9 153.4L558.5 148.1L560.2 146.2L561.8 146.8L563.4 148.8L565 151.8L569.9 161.4L571.5 164.9L573.1 169.2L574.8 175.2L576.4 184L578 197.2L578.5 202.6M590.8 202.6L591 201.9L591.6 202.6M607.3 202.6L608.9 201.7L609.2 202.6M624.8 202.6L625.1 200.9L626.7 195.1L628.4 192.9L630 193.8L631.6 197.8L632.7 202.6M648.9 202.6L649.5 198.4L651.1 189.8L652.7 183.3L654.3 178.4L656 175L657.6 172.6L659.2 171.2L660.8 170.7L662.5 171L664.1 172.2L665.7 174.1L667.3 176.9L669 180.6L670.6 185.5L672.2 192L673.8 200.7L674.1 202.6" stroke="#56652f"/>
<path d="M472.6 202.6L474.1 194.4L475.7 192.8L477.3 199.8L477.6 202.6M484.5 202.6L485.5 181L487.1 161L488.7 151.1L490.3 150.1L492 160.2L493.6 191L493.9 202.6M496.3 202.6L496.8 177.9L498.4 125.4L500.1 94.5L501.7 73.5L503.3 58.7L504.9 48.7L506.6 42.7L508.2 40.3L509.8 41.5L511.4 46.6L513.1 56L514.7 70.7L516.3 93L517.9 128.5L519.6 202.6M521.6 202.6L522.8 154.3L524.4 134.4L526.1 130.4L527.7 137.9L529.3 158.1L531 202.6M534.4 202.6L535.8 171.9L537.4 158.8L539 158.6L540.7 170.3L542.3 198.3L542.4 202.6M547.1 202.6L548.8 178.7L550.4 171.4L552 175.5L553.7 192.2L554.1 202.6M560 202.6L560.2 199.6L561.8 182.4L563.4 177.9L565 183.9L566.7 202.6M573.1 202.6L573.1 200.8L574.8 183.5L576.4 177.7L578 181.1L579.6 194.9L580.1 202.6M586.6 202.6L587.8 184.3L589.4 171.5L591 167.1L592.6 170.1L594.3 181.8L595.6 202.6M600.7 202.6L602.4 165.9L604 144.6L605.6 130.3L607.2 120.5L608.9 114L610.5 110.1L612.1 108.5L613.7 108.8L615.4 110.9L617 114.5L618.6 119.7L620.2 126.3L621.9 134.4L623.5 144L625.1 155.1L626.7 167.9L628.4 182.6L630.2 202.6" stroke="#6a86e8"/>
<path d="M417.6 202.6L420.5 196.9L423.7 191.2L435.1 173L438.4 168L440 165.8L441.6 164L443.2 162.7L444.9 162.2L446.5 162.8L448.1 164.6L449.7 168.2L451.4 174.1L453 183.1L454.6 196.8L455 202.6M464.3 202.6L464.3 201.2L466 187L467.6 179.9L469.2 178.8L470.8 184.1L472.5 197.6L472.8 202.6M479.6 202.6L480.6 185.5L482.2 170.2L483.8 164L485.5 166.1L487.1 178.2L488.4 202.6M492.9 202.6L493.6 177.9L495.2 151.4L496.8 137.9L498.4 134.3L500.1 141L501.7 164L502.5 202.6M504.6 202.6L504.9 193.8L506.6 127.8L508.2 93.7L509.8 71.7L511.4 56.8L513.1 47.1L514.7 41.7L516.3 40.2L517.9 42.6L519.6 48.9L521.2 59.7L522.8 76.2L524.4 100.7L526.1 139.5L527.3 202.6M529.7 202.6L530.9 162.4L532.5 146.6L534.2 146.3L535.8 158.1L537.4 184.8L537.9 202.6M543 202.6L543.9 189.4L545.5 184L547.2 192L547.9 202.6M574.4 202.6L574.8 189.3L576.4 155.1L578 133.1L579.6 118.5L581.3 109L582.9 103.8L584.5 102.3L586.1 104.3L587.8 109.8L589.4 119.2L591 133.2L592.6 153.4L594.3 183.7L594.8 202.6M600.7 202.6L600.8 200.6L602.4 186.7L604 181.9L605.6 183.6L607.2 191.1L608.6 202.6" stroke="#21408a"/>
<path d="M437.7 202.6L438.4 195.2L440 182.3L441.6 172.7L443.2 165.7L444.9 161.2L446.5 159L448.1 159L449.7 161.4L451.4 166.2L453 173.8L454.6 184.1L456.9 202.6M477.3 202.6L477.3 202.3L479 200.1L480.6 199.3L482.2 194.2L483.8 180.9L487.1 147.3L488.7 134.7L490.3 126.3L492 122.4L493.6 123.5L495.2 130.6L496.8 145.4L498.4 172.5L499.6 202.6M501.3 202.6L501.7 198.6L503.3 161.2L504.9 140.9L506.6 133L508.2 136.2L509.8 154.1L511.3 202.6M513.1 202.6L514.7 132.4L516.3 96.1L517.9 73.1L519.6 57.9L521.2 48L522.8 42.7L524.4 41.3L526.1 43.6L527.7 50L529.3 60.6L530.9 76.5L532.5 99.6L534.2 134.4L535.8 194.2L536.4 202.6M538 202.6L539 170.6L540.7 152.4L542.3 148.9L543.9 154.8L545.5 167L547.2 177.2L548.8 171.7L552 140.6L553.7 129.7L555.3 122.6L556.9 118.7L558.5 117.7L560.2 119.3L561.8 123.7L563.4 131.3L565 142.8L566.7 159L568.3 181.1L569.6 202.6M573.9 202.6L574.8 195L576.4 187.8L578 187L579.6 191L581.3 196.6L582.9 198.1L584.5 191.5L587.8 170.2L589.4 162.7L591 158.7L592.6 158.1L594.3 160.7L595.9 166.5L597.5 175.4L599.1 187.1L601 202.6M646.4 202.6L647.8 199.5L649.5 197.2L651.1 195.8L652.7 195.2L654.3 195.4L656 196.2L657.6 197.7L659.2 199.7L661 202.6" stroke="#cc7b22"/>
<path d="M486.3 202.6L487.1 194.4L488.7 188.3L490.3 191.5L491.6 202.6M498.2 202.6L498.4 197.1L500.1 176L501.7 167.2L503.3 168.9L504.9 183.2L505.8 202.6M509.9 202.6L511.4 162.3L513.1 141.8L514.7 133.4L516.3 136.1L517.9 153.9L519.3 202.6M521.3 202.6L522.8 129.8L524.4 92.2L526.1 68.4L527.7 52.4L529.3 41.9L530.9 36L532.5 34.1L534.2 36L535.8 41.9L537.4 52.4L539 68.4L540.7 92.2L542.3 129.8L543.8 202.6M545.8 202.6L547.2 153.9L548.8 136.1L550.4 133.4L552 141.8L553.7 162.3L555.2 202.6M559.3 202.6L560.2 183.2L561.8 168.9L563.4 167.2L565 176L566.7 197.1L566.9 202.6M573.5 202.6L574.8 191.5L576.4 188.3L578 194.4L578.8 202.6" stroke="#8f35f2"/>
<path d="M404.1 202.6L405.9 199.7L407.5 197.7L409.1 196.2L410.8 195.4L412.4 195.2L414 195.8L415.6 197.2L417.3 199.5L418.7 202.6M464.1 202.6L466 187.1L467.6 175.4L469.2 166.5L470.8 160.7L472.5 158.1L474.1 158.7L475.7 162.7L477.3 170.2L480.6 191.5L482.2 198.1L483.8 196.6L485.5 191L487.1 187L488.7 187.8L490.3 195L491.2 202.6M495.5 202.6L496.8 181.1L498.4 159L500.1 142.8L501.7 131.3L503.3 123.7L504.9 119.3L506.6 117.7L508.2 118.7L509.8 122.6L511.4 129.7L513.1 140.6L516.3 171.7L517.9 177.2L519.6 167L521.2 154.8L522.8 148.9L524.4 152.4L526.1 170.6L527.1 202.6M528.7 202.6L529.3 194.2L530.9 134.4L532.5 99.6L534.2 76.5L535.8 60.6L537.4 50L539 43.6L540.7 41.3L542.3 42.7L543.9 48L545.5 57.9L547.2 73.1L548.8 96.1L550.4 132.4L552 202.6M553.8 202.6L555.3 154.1L556.9 136.2L558.5 133L560.2 140.9L561.8 161.2L563.4 198.6L563.8 202.6M565.5 202.6L566.7 172.5L568.3 145.4L569.9 130.6L571.5 123.5L573.1 122.4L574.8 126.3L576.4 134.7L578 147.3L581.3 180.9L582.9 194.2L584.5 199.3L586.1 200.1L587.8 202.3L587.8 202.6M608.2 202.6L610.5 184.1L612.1 173.8L613.7 166.2L615.4 161.4L617 159L618.6 159L620.2 161.2L621.9 165.7L623.5 172.7L625.1 182.3L626.7 195.2L627.4 202.6" stroke="#1f6f7b"/>
<path d="M456.5 202.6L457.9 191.1L459.5 183.6L461.1 181.9L462.7 186.7L464.3 200.6L464.4 202.6M470.3 202.6L470.8 183.7L472.5 153.4L474.1 133.2L475.7 119.2L477.3 109.8L479 104.3L480.6 102.3L482.2 103.8L483.8 109L485.5 118.5L487.1 133.1L488.7 155.1L490.3 189.3L490.7 202.6M517.2 202.6L517.9 192L519.6 184L521.2 189.4L522.1 202.6M527.2 202.6L527.7 184.8L529.3 158.1L530.9 146.3L532.5 146.6L534.2 162.4L535.4 202.6M537.8 202.6L539 139.5L540.7 100.7L542.3 76.2L543.9 59.7L545.5 48.9L547.2 42.6L548.8 40.2L550.4 41.7L552 47.1L553.7 56.8L555.3 71.7L556.9 93.7L558.5 127.8L560.2 193.8L560.5 202.6M562.6 202.6L563.4 164L565 141L566.7 134.3L568.3 137.9L569.9 151.4L571.5 177.9L572.2 202.6M576.7 202.6L578 178.2L579.6 166.1L581.3 164L582.9 170.2L584.5 185.5L585.5 202.6M592.3 202.6L592.6 197.6L594.3 184.1L595.9 178.8L597.5 179.9L599.1 187L600.8 201.2L600.8 202.6M610.1 202.6L610.5 196.8L612.1 183.1L613.7 174.1L615.4 168.2L617 164.6L618.6 162.8L620.2 162.2L621.9 162.7L623.5 164L625.1 165.8L626.7 168L630 173L641.4 191.2L644.6 196.9L647.5 202.6" stroke="#2f6a30"/>
<path d="M434.9 202.6L436.7 182.6L438.4 167.9L440 155.1L441.6 144L443.2 134.4L444.9 126.3L446.5 119.7L448.1 114.5L449.7 110.9L451.4 108.8L453 108.5L454.6 110.1L456.2 114L457.9 120.5L459.5 130.3L461.1 144.6L462.7 165.9L464.4 202.6M469.5 202.6L470.8 181.8L472.5 170.1L474.1 167.1L475.7 171.5L477.3 184.3L478.5 202.6M485 202.6L485.5 194.9L487.1 181.1L488.7 177.7L490.3 183.5L492 200.8L492 202.6M498.4 202.6L500.1 183.9L501.7 177.9L503.3 182.4L504.9 199.6L505.1 202.6M511 202.6L511.4 192.2L513.1 175.5L514.7 171.4L516.3 178.7L518 202.6M522.7 202.6L522.8 198.3L524.4 170.3L526.1 158.6L527.7 158.8L529.3 171.9L530.7 202.6M534.1 202.6L535.8 158.1L537.4 137.9L539 130.4L540.7 134.4L542.3 154.3L543.5 202.6M545.5 202.6L547.2 128.5L548.8 93L550.4 70.7L552 56L553.7 46.6L555.3 41.5L556.9 40.3L558.5 42.7L560.2 48.7L561.8 58.7L563.4 73.5L565 94.5L566.7 125.4L568.3 177.9L568.8 202.6M571.2 202.6L571.5 191L573.1 160.2L574.8 150.1L576.4 151.1L578 161L579.6 181L580.6 202.6M587.5 202.6L587.8 199.8L589.4 192.8L591 194.4L592.5 202.6" stroke="#f0994f"/>
<path d="M391 202.6L391.3 200.7L392.9 192L394.5 185.5L396.1 180.6L397.8 176.9L399.4 174.1L401 172.2L402.6 171L404.3 170.7L405.9 171.2L407.5 172.6L409.1 175L410.8 178.4L412.4 183.3L414 189.8L415.6 198.4L416.2 202.6M432.4 202.6L433.5 197.8L435.1 193.8L436.7 192.9L438.4 195.1L440 200.9L440.3 202.6M455.9 202.6L456.2 201.7L457.8 202.6M473.5 202.6L474.1 201.9L474.3 202.6M486.6 202.6L487.1 197.2L488.7 184L490.3 175.2L492 169.2L493.6 164.9L495.2 161.4L500.1 151.8L501.7 148.8L503.3 146.8L504.9 146.2L506.6 148.1L508.2 153.4L509.8 163.7L511.4 181.9L512.4 202.6M518 202.6L519.6 180.8L521.2 171.2L522.8 172L524.4 183.8L525.5 202.6M530.6 202.6L530.9 192.7L532.5 169.1L534.2 159.8L535.8 161.6L537.4 176.5L538.5 202.6M542.2 202.6L543.9 159.1L545.5 139.7L547.2 132.5L548.8 136.4L550.4 155.4L551.7 202.6M553.9 202.6L555.3 134.3L556.9 97.7L558.5 74.7L560.2 59.4L561.8 49.4L563.4 43.7L565 41.7L566.7 43.2L568.3 48.2L569.9 56.8L571.5 69.7L573.1 88L574.8 114.1L576.4 154.8L577.2 202.6M580.3 202.6L581.3 171.4L582.9 154.2L584.5 150.3L586.1 155.3L587.8 169L589.4 193.7L589.7 202.6M596.9 202.6L597.5 197.2L599.1 192.8L600.8 196.2L601.7 202.6M656.5 202.6L657.6 199.3L659.2 195.6L660.8 193.2L662.5 191.9L664.1 191.6L665.7 192.3L667.3 194.1L669 197L670.6 201.2L671 202.6" stroke="#a62a22"/>
<path d="M413.2 202.6L414 199.6L415.6 194.4L417.3 190L418.9 186.3L420.5 183.5L422.1 181.5L423.7 180.4L425.4 180.2L427 180.9L428.6 182.4L430.2 184.8L431.9 187.8L435.1 194.3L436.7 196.8L438.4 198.2L440 198.5L441.6 198L443.2 197.2L444.9 196.8L446.5 197.4L448.1 199.4L449.6 202.6M473.4 202.6L474.1 194.7L475.7 182.1L477.3 174.4L479 170.9L480.6 171.6L482.2 176.4L483.8 185.9L485.6 202.6M496.2 202.6L496.8 196.3L498.4 184.2L500.1 175.4L501.7 169.8L503.3 167.7L504.9 169.6L506.6 176.3L508.2 188.8L509.3 202.6M524.4 202.6L526.1 189.9L527.7 182.7L529.3 179.3L530.9 176.4L532.5 169.1L534.2 156.7L535.8 143L537.4 131.9L539 125.2L540.7 123.8L542.3 128.6L543.9 141.8L545.5 168.2L546.6 202.6M548.8 202.6L550.4 157.4L552 133.3L553.7 121.9L555.3 120.4L556.9 129.3L558.5 154.3L559.7 202.6M560.9 202.6L561.8 179.9L563.4 121.7L565 90.5L566.7 70.7L568.3 57.5L569.9 49.3L571.5 45L573.1 44.1L574.8 46.4L576.4 51.8L578 60.6L579.6 73L581.3 89.9L582.9 112.6L584.5 144.2L586.4 202.6M589.9 202.6L591 185.9L592.6 177.5L594.3 179.2L595.9 188.8L597.2 202.6M606.3 202.6L607.2 195.8L608.9 185.1L612.1 164.5L613.7 154.9L615.4 146.5L617 139.6L618.6 134.2L620.2 130.5L621.9 128.4L623.5 127.8L625.1 128.8L626.7 131.4L628.4 135.5L630 141.1L631.6 148.5L633.2 157.7L634.9 169.1L636.5 183.1L638.3 202.6M657.2 202.6L657.6 202.2L659.2 201.8L660.8 202.4L661 202.6" stroke="#c02a98"/>
<path d="M481 202.6L482.2 193.1L483.8 186.5L485.5 186L487.1 191.8L488.5 202.6M495.6 202.6L496.8 191L498.4 183.6L500.1 183.4L501.7 190.6L502.9 202.6M511.9 202.6L513.1 199L514.7 202.6M530.9 202.6L532.5 191.7L534.2 189L535.8 195.9L536.3 202.6M541.7 202.6L542.3 188.4L543.9 162.9L545.5 148.7L547.2 143.1L548.8 145.4L550.4 156.2L552 174.8L553.7 184.1L555.3 162.1L556.9 137L558.5 120.1L560.2 110.9L561.8 108.7L563.4 113.7L565 127L566.7 148.1L568.3 153.8L571.5 96.8L573.1 76.6L574.8 62.5L576.4 53.2L578 47.7L579.6 45.4L581.3 46L582.9 49.3L584.5 55.2L586.1 63.5L587.8 74L591 98.8L592.6 110.3L594.3 118.9L595.9 124.6L597.5 129.4L599.1 135.8L600.8 145.5L602.4 160.8L604 185L604.7 202.6M609.8 202.6L610.5 188.2L612.1 168.4L613.7 156.8L615.4 150.6L617 148.3L618.6 149.4L620.2 153.4L621.9 160.2L623.5 170L625.1 182.6L627.3 202.6M634.5 202.6L636.5 192L638.1 185.8L639.7 181.6L641.4 179.3L643 178.4L644.6 178.8L646.2 180.4L647.8 182.9L649.5 186.2L651.1 190.3L652.7 195.1L654.9 202.6" stroke="#e87b5c"/>
<path d="M419.1 202.6L420.5 196.2L422.1 190.4L423.7 185.8L425.4 182.6L427 180.8L428.6 180.3L430.2 181.3L431.9 184L433.5 188.4L435.1 194.6L436.7 202.6M459.5 202.6L461.1 190.2L462.7 180.5L464.3 174.4L466 172.2L467.6 174.3L469.2 181.6L470.8 196L471.3 202.6M478.7 202.6L479 198.2L480.6 180.9L482.2 172.1L483.8 169.6L485.5 172.8L487.1 182L488.7 197.7L489.1 202.6M504.2 202.6L504.9 194.1L506.6 181L508.2 174.2L509.8 174.2L511.4 181.8L513.1 199.4L513.2 202.6M518.8 202.6L519.6 189L521.2 172.6L522.8 165.4L524.4 165.6L526.1 172.9L527.7 188.4L528.5 202.6M543 202.6L543.9 189.6L545.5 173.5L547.2 163.5L548.8 157.9L550.4 155.6L552 155.4L553.7 155.9L555.3 155.6L556.9 153.2L558.5 148.2L560.2 141.1L563.4 124.9L565 118.3L566.7 114L568.3 112.9L569.9 115.8L571.5 123.8L573.1 137.8L574.8 154.4L576.4 152.1L579.6 101.7L581.3 82.6L582.9 68.7L584.5 58.7L586.1 52.2L587.8 48.6L589.4 47.7L591 49.4L592.6 53.6L594.3 60.6L595.9 70.6L597.5 84.2L599.1 102.3L600.8 126.7L604 190.7L605.6 177.5L607.2 153.8L608.9 138.6L610.5 130.2L612.1 126.6L613.7 126.8L615.4 130L617 135.9L618.6 144.2L620.2 154.8L621.9 167.4L625.1 194L626.5 202.6" stroke="#f5d33f"/>
<path d="M407.7 202.6L410.8 194L414 186L417.3 178.9L418.9 175.7L422.1 169.7L425.4 164.4L427 162.1L428.6 160.1L430.2 158.6L431.9 157.7L433.5 157.6L435.1 158.4L436.7 160.5L438.4 164.2L440 169.8L441.6 178.2L443.2 190.2L444.4 202.6M454.8 202.6L456.2 193.5L457.9 189.1L459.5 190.2L461.1 197.4L461.7 202.6M471.2 202.6L472.5 191L474.1 184.5L475.7 185.4L477.3 194.7L477.9 202.6M484.6 202.6L485.5 182.7L487.1 161.9L488.7 149.3L490.3 142.4L492 140.2L493.6 142L495.2 147.7L496.8 157L498.4 169.7L500.1 185.3L501.7 202.6M524.6 202.6L526.1 190.9L527.7 189.1L529.3 200L529.4 202.6M534.8 202.6L535.8 171.7L537.4 144.7L539 127.6L540.7 116.8L542.3 110.7L543.9 108.5L545.5 109.8L547.2 114.4L548.8 122.4L550.4 134.4L552 151.5L553.7 177.1L554.6 202.6M559.9 202.6L560.2 196.8L561.8 179.1L563.4 173.3L565 177.4L566.7 193.5L567 202.6M572.2 202.6L573.1 179L574.8 157.7L576.4 147.7L578 146.6L579.6 155.6L581.3 180.6L581.8 202.6M584.7 202.6L586.1 146.4L587.8 112.9L589.4 90.8L591 75.2L592.6 64.1L594.3 56.5L595.9 51.8L597.5 49.6L599.1 49.7L600.8 52L602.4 56.5L604 63.3L605.6 72.6L607.2 84.6L608.9 100.1L610.5 120.3L612.1 147.9L613.7 190.5L614.1 202.6M618.2 202.6L618.6 191L620.2 170.1L621.9 159.7L623.5 155.2L625.1 154.9L626.7 158.1L628.4 164.3L630 173.5L631.6 186.2L633.2 202.6" stroke="#98ac3f"/>
<path d="M421.8 202.6L422.1 202.2L423.7 200.6L425.4 199.8L427 199.5L428.6 199.6L431.9 200.7L433.5 201.1L435.1 201.1L436.7 200.5L438.4 199.5L440 198.4L441.6 197.4L443.2 197L444.9 197.7L446.5 199.8L447.8 202.6M458.5 202.6L461.1 187.2L462.7 179L464.3 172.3L466 166.9L467.6 162.7L469.2 159.6L470.8 157.5L472.5 156.7L474.1 157.4L475.7 160.1L477.3 165.3L479 173.8L480.6 186.2L482.2 202.6M487.8 202.6L488.7 194.6L490.3 185.2L492 181.5L493.6 183.4L495.2 191.4L496.4 202.6M513.3 202.6L514.7 189.1L516.3 179.1L517.9 171.2L519.6 162.2L521.2 150.4L522.8 137.3L524.4 125.4L526.1 116.2L527.7 110.5L529.3 108.9L530.9 111.9L532.5 120.3L534.2 135.3L535.8 159.1L537.4 188.1L539 186.7L540.7 162.1L542.3 145.2L543.9 137.5L545.5 137.7L547.2 145.7L548.8 162.8L550.4 193.9L550.7 202.6M556.1 202.6L556.9 193.5L558.5 189.4L560.2 194.2L561.8 199.5L563.4 193.1L565 177.8L566.7 164.7L568.3 157.9L569.9 158.9L571.5 169.2L573.1 194.7L573.4 202.6M577.4 202.6L578 179.5L579.6 150.1L581.3 134L582.9 126.4L584.5 125.9L586.1 132.9L587.8 149.7L589.4 180.4L591 194.5L592.6 151.5L594.3 117.9L595.9 95.2L597.5 79.2L599.1 67.9L600.8 60.1L602.4 55.1L604 52.4L605.6 52L607.2 53.5L608.9 56.8L610.5 62L612.1 69L613.7 77.9L615.4 89L617 102.4L618.6 118.6L620.2 138.2L621.9 162L623.5 189.3L624.5 202.6M627.6 202.6L628.4 196.1L630 185.2L631.6 178.6L633.2 175.5L634.9 175.2L636.5 177.4L638.1 181.6L639.7 187.8L641.4 195.7L642.5 202.6" stroke="#40722c"/>
<path d="M498.7 202.6L500.1 171.6L501.7 145.8L503.3 126.8L504.9 112.8L506.6 103.1L508.2 97.3L509.8 95.4L511.4 97.4L513.1 104L514.7 116L516.3 135.8L517.9 168.9L518.7 202.6M522.4 202.6L522.8 188.1L524.4 166.2L526.1 160.2L527.7 165.8L529.3 184.1L530 202.6M535.3 202.6L535.8 191.1L537.4 176.3L539 174.6L540.7 184.8L541.8 202.6M547.7 202.6L548.8 185.8L550.4 177L552 179.8L553.7 195L554 202.6M559.9 202.6L560.2 197L561.8 178.4L563.4 172.5L565 177.2L566.7 194.2L567 202.6M572.5 202.6L573.1 187.3L574.8 168.6L576.4 161.4L578 163.4L579.6 175.8L581.2 202.6M585.7 202.6L586.1 184.9L587.8 157.8L589.4 143.5L591 137.5L592.6 139L594.3 149L595.9 172.4L596.7 202.6M599.9 202.6L600.8 161L602.4 124.8L604 101.7L605.6 85.5L607.2 73.8L608.9 65.4L610.5 59.6L612.1 56L613.7 54.2L615.4 54.2L617 55.7L618.6 58.6L620.2 63L621.9 68.8L623.5 76L625.1 84.6L626.7 94.9L628.4 107L630 121.3L631.6 138.2L633.2 159L634.9 185.8L635.6 202.6M644.9 202.6L646.2 195.5L647.8 190.5L649.5 188L651.1 187.2L652.7 187.9L654.3 189.7L656 192.4L657.6 195.9L659.2 200L660.1 202.6" stroke="#2a4898"/>
<path d="M402.2 202.6L404.3 194.4L405.9 188.6L407.5 183.2L409.1 178.3L410.8 174L412.4 170.2L414 167.2L415.6 164.9L417.3 163.5L418.9 163.1L420.5 163.8L422.1 165.7L423.7 169.2L425.4 174.5L427 182.1L428.6 192.7L429.7 202.6M441.1 202.6L441.6 198.5L443.2 191.6L444.9 189.2L446.5 191.3L448.1 198.3L448.7 202.6M455.9 202.6L456.2 198L457.9 178.7L459.5 165L461.1 156.1L462.7 151.4L464.3 150.9L466 154.7L467.6 163.6L469.2 179.3L470.6 202.6M477.7 202.6L479 192.9L480.6 191.7L482.2 201.3L482.3 202.6M487.1 202.6L488.7 169.4L490.3 146.6L492 131L493.6 120.9L495.2 115.1L496.8 113L498.4 114.1L500.1 118.2L501.7 125.2L503.3 134.9L504.9 147.4L506.6 163.1L508.2 183.5L509.3 202.6M514.3 202.6L514.7 194.7L516.3 172.2L517.9 157.5L519.6 148.6L521.2 144.4L522.8 144.1L524.4 147.1L526.1 152.9L527.7 160.6L529.3 169.6L530.9 179.6L532.5 191.7L533.6 202.6M550.9 202.6L552 199.8L553.7 194.6L555.3 191.5L556.9 192.5L558.5 199.1L559 202.6M582.7 202.6L587.8 166.7L589.4 156L591 147.2L592.6 141.3L594.3 138.8L595.9 140.5L597.5 147.6L599.1 162.4L600.8 191L601.1 202.6M604.1 202.6L605.6 155.9L607.2 126.3L608.9 105.9L610.5 91L612.1 79.8L613.7 71.6L615.4 65.6L617 61.6L618.6 59.2L620.2 58.4L621.9 58.9L623.5 60.7L625.1 63.8L626.7 68L628.4 73.4L630 79.9L631.6 87.7L633.2 96.7L634.9 107.1L636.5 119.1L638.1 132.8L639.7 148.8L641.4 167.6L643 190.4L643.7 202.6M659.2 202.6L660.8 202.4L661.1 202.6" stroke="#a84848"/>
<path d="M472.2 202.6L472.5 193.3L474.1 161.1L475.7 139.1L477.3 123.4L479 112.5L480.6 105.5L482.2 102.2L483.8 102.4L485.5 106.3L487.1 114.6L488.7 128.2L490.3 149.5L492 184.5L492.4 202.6M496.7 202.6L496.8 199.9L498.4 178.9L500.1 172.9L501.7 177.7L503.3 193.9L503.7 202.6M510.8 202.6L511.4 195L513.1 189.9L514.7 195.7L515.3 202.6M524.1 202.6L524.4 199L526.1 194.9L527.7 200.9L527.8 202.6M536.6 202.6L537.4 191.4L539 178L540.7 169.6L542.3 164.2L543.9 160.4L548.8 151.1L550.4 148.2L552 146.1L553.7 145.5L555.3 147.3L556.9 152.4L558.5 162.1L560.2 178.8L561.5 202.6M567.5 202.6L568.3 189.4L569.9 176.4L571.5 173.1L573.1 178.3L574.8 193.9L575.2 202.6M581.3 202.6L582.9 179.2L584.5 167.8L586.1 164.9L587.8 169.9L589.4 184.5L590.3 202.6M595.6 202.6L595.9 193.2L597.5 166.2L599.1 151.1L600.8 143.5L602.4 142.2L604 147.1L605.6 160L607.2 186.4L607.6 202.6M611.4 202.6L612.1 171.5L613.7 137L615.4 114.6L617 98.6L618.6 86.7L620.2 77.9L621.9 71.3L623.5 66.7L625.1 63.7L626.7 62L628.4 61.6L630 62.2L631.6 63.9L633.2 66.5L634.9 70L636.5 74.3L638.1 79.4L639.7 85.2L641.4 91.8L643 99L644.6 107L646.2 115.7L647.8 125.2L649.5 135.4L651.1 146.4L652.7 158.3L654.3 171.2L656 185.2L657.8 202.6" stroke="#b6983e"/>
</g>
<g stroke="#3a3a3a" stroke-width="0.5" fill="none">
<path d="M386.40 198.60v-4.3M386.40 19.10v4.3"/>
<path d="M398.58 198.60v-2.7M398.58 19.10v2.7"/>
<path d="M410.76 198.60v-2.7M410.76 19.10v2.7"/>
<path d="M422.94 198.60v-2.7M422.94 19.10v2.7"/>
<path d="M435.12 198.60v-4.3M435.12 19.10v4.3"/>
<path d="M447.30 198.60v-2.7M447.30 19.10v2.7"/>
<path d="M459.48 198.60v-2.7M459.48 19.10v2.7"/>
<path d="M471.65 198.60v-2.7M471.65 19.10v2.7"/>
<path d="M483.83 198.60v-4.3M483.83 19.10v4.3"/>
<path d="M496.01 198.60v-2.7M496.01 19.10v2.7"/>
<path d="M508.19 198.60v-2.7M508.19 19.10v2.7"/>
<path d="M520.37 198.60v-2.7M520.37 19.10v2.7"/>
<path d="M532.55 198.60v-4.3M532.55 19.10v4.3"/>
<path d="M544.73 198.60v-2.7M544.73 19.10v2.7"/>
<path d="M556.91 198.60v-2.7M556.91 19.10v2.7"/>
<path d="M569.09 198.60v-2.7M569.09 19.10v2.7"/>
<path d="M581.27 198.60v-4.3M581.27 19.10v4.3"/>
<path d="M593.45 198.60v-2.7M593.45 19.10v2.7"/>
<path d="M605.62 198.60v-2.7M605.62 19.10v2.7"/>
<path d="M617.80 198.60v-2.7M617.80 19.10v2.7"/>
<path d="M629.98 198.60v-4.3M629.98 19.10v4.3"/>
<path d="M642.16 198.60v-2.7M642.16 19.10v2.7"/>
<path d="M654.34 198.60v-2.7M654.34 19.10v2.7"/>
<path d="M666.52 198.60v-2.7M666.52 19.10v2.7"/>
<path d="M678.70 198.60v-4.3M678.70 19.10v4.3"/>
<path d="M386.40 198.60h2.7M678.70 198.60h-2.7"/>
<path d="M386.40 191.12h2.7M678.70 191.12h-2.7"/>
<path d="M386.40 183.64h4.3M678.70 183.64h-4.3"/>
<path d="M386.40 176.16h2.7M678.70 176.16h-2.7"/>
<path d="M386.40 168.68h2.7M678.70 168.68h-2.7"/>
<path d="M386.40 161.20h2.7M678.70 161.20h-2.7"/>
<path d="M386.40 153.72h2.7M678.70 153.72h-2.7"/>
<path d="M386.40 146.25h4.3M678.70 146.25h-4.3"/>
<path d="M386.40 138.77h2.7M678.70 138.77h-2.7"/>
<path d="M386.40 131.29h2.7M678.70 131.29h-2.7"/>
<path d="M386.40 123.81h2.7M678.70 123.81h-2.7"/>
<path d="M386.40 116.33h2.7M678.70 116.33h-2.7"/>
<path d="M386.40 108.85h4.3M678.70 108.85h-4.3"/>
<path d="M386.40 101.37h2.7M678.70 101.37h-2.7"/>
<path d="M386.40 93.89h2.7M678.70 93.89h-2.7"/>
<path d="M386.40 86.41h2.7M678.70 86.41h-2.7"/>
<path d="M386.40 78.93h2.7M678.70 78.93h-2.7"/>
<path d="M386.40 71.45h4.3M678.70 71.45h-4.3"/>
<path d="M386.40 63.98h2.7M678.70 63.98h-2.7"/>
<path d="M386.40 56.50h2.7M678.70 56.50h-2.7"/>
<path d="M386.40 49.02h2.7M678.70 49.02h-2.7"/>
<path d="M386.40 41.54h2.7M678.70 41.54h-2.7"/>
<path d="M386.40 34.06h4.3M678.70 34.06h-4.3"/>
<path d="M386.40 26.58h2.7M678.70 26.58h-2.7"/>
<path d="M386.40 19.10h2.7M678.70 19.10h-2.7"/>
</g>
<rect x="386.40" y="19.10" width="292.30" height="179.50" fill="none" stroke="#1c1c1c" stroke-width="1.2"/>
<text x="386.40" y="210.60" text-anchor="middle" font-size="12.0">−<tspan dx="2.0">90</tspan></text>
<text x="435.12" y="210.60" text-anchor="middle" font-size="12.0">−<tspan dx="2.0">60</tspan></text>
<text x="483.83" y="210.60" text-anchor="middle" font-size="12.0">−<tspan dx="2.0">30</tspan></text>
<text x="532.55" y="210.60" text-anchor="middle" font-size="12.0">0</text>
<text x="581.27" y="210.60" text-anchor="middle" font-size="12.0">30</text>
<text x="629.98" y="210.60" text-anchor="middle" font-size="12.0">60</text>
<text x="678.70" y="210.60" text-anchor="middle" font-size="12.0">90</text>
<text x="383.00" y="38.56" text-anchor="end" font-size="12.0">0</text>
<text x="383.00" y="75.95" text-anchor="end" font-size="12.0">−<tspan dx="2.0">5</tspan></text>
<text x="383.00" y="113.35" text-anchor="end" font-size="12.0">−<tspan dx="2.0">10</tspan></text>
<text x="383.00" y="150.75" text-anchor="end" font-size="12.0">−<tspan dx="2.0">15</tspan></text>
<text x="383.00" y="188.14" text-anchor="end" font-size="12.0">−<tspan dx="2.0">20</tspan></text>
<text x="356.30" y="109.35" text-anchor="middle" font-size="12.0" transform="rotate(-90 356.30 109.35)">Normalized Amplitude (dB)</text>
<text x="526.55" y="226.80" font-size="12.0"><tspan font-style="italic" font-size="13.6">θ</tspan><tspan dx="0.7">(</tspan><tspan font-size="8.5" dx="0.5" dy="-1">°</tspan><tspan dx="0.6" dy="1">)</tspan></text>
<text x="533.30" y="11.60" text-anchor="middle" font-size="12.0">Fundamental-frequency wave patterns</text>
<text x="653.4" y="38.5" font-size="12.0"><tspan font-style="italic" font-size="12.4">f</tspan><tspan font-size="9.4" dy="3.0" dx="-0.3">c</tspan></text>
<g>
<rect x="39.20" y="261.10" width="8.30" height="11.39" fill="#875f57"/>
<rect x="47.00" y="261.10" width="8.30" height="11.39" fill="#00cc66"/>
<rect x="54.79" y="261.10" width="8.30" height="11.39" fill="#ffff92"/>
<rect x="62.59" y="261.10" width="8.30" height="11.39" fill="#33309a"/>
<rect x="70.39" y="261.10" width="8.30" height="11.39" fill="#875f57"/>
<rect x="78.18" y="261.10" width="8.30" height="11.39" fill="#ffff92"/>
<rect x="85.98" y="261.10" width="23.89" height="11.39" fill="#00cc66"/>
<rect x="109.37" y="261.10" width="8.30" height="11.39" fill="#33309a"/>
<rect x="117.17" y="261.10" width="8.30" height="11.39" fill="#875f57"/>
<rect x="124.97" y="261.10" width="8.30" height="11.39" fill="#ffff92"/>
<rect x="132.76" y="261.10" width="8.30" height="11.39" fill="#875f57"/>
<rect x="140.56" y="261.10" width="8.30" height="11.39" fill="#00cc66"/>
<rect x="148.36" y="261.10" width="8.30" height="11.39" fill="#ffff92"/>
<rect x="156.15" y="261.10" width="16.09" height="11.39" fill="#33309a"/>
<rect x="171.75" y="261.10" width="16.09" height="11.39" fill="#875f57"/>
<rect x="187.34" y="261.10" width="8.30" height="11.39" fill="#33309a"/>
<rect x="195.14" y="261.10" width="8.30" height="11.39" fill="#ffff92"/>
<rect x="202.93" y="261.10" width="8.30" height="11.39" fill="#33309a"/>
<rect x="210.73" y="261.10" width="8.30" height="11.39" fill="#00cc66"/>
<rect x="218.53" y="261.10" width="16.09" height="11.39" fill="#875f57"/>
<rect x="234.12" y="261.10" width="8.30" height="11.39" fill="#ffff92"/>
<rect x="241.92" y="261.10" width="23.89" height="11.39" fill="#00cc66"/>
<rect x="265.31" y="261.10" width="16.09" height="11.39" fill="#875f57"/>
<rect x="280.90" y="261.10" width="7.80" height="11.39" fill="#ffff92"/>
<rect x="39.20" y="271.99" width="16.09" height="11.39" fill="#875f57"/>
<rect x="54.79" y="271.99" width="8.30" height="11.39" fill="#33309a"/>
<rect x="62.59" y="271.99" width="8.30" height="11.39" fill="#875f57"/>
<rect x="70.39" y="271.99" width="8.30" height="11.39" fill="#33309a"/>
<rect x="78.18" y="271.99" width="16.09" height="11.39" fill="#00cc66"/>
<rect x="93.78" y="271.99" width="8.30" height="11.39" fill="#875f57"/>
<rect x="101.58" y="271.99" width="8.30" height="11.39" fill="#00cc66"/>
<rect x="109.37" y="271.99" width="8.30" height="11.39" fill="#ffff92"/>
<rect x="117.17" y="271.99" width="23.89" height="11.39" fill="#00cc66"/>
<rect x="140.56" y="271.99" width="16.09" height="11.39" fill="#33309a"/>
<rect x="156.15" y="271.99" width="16.09" height="11.39" fill="#875f57"/>
<rect x="171.75" y="271.99" width="8.30" height="11.39" fill="#00cc66"/>
<rect x="179.54" y="271.99" width="23.89" height="11.39" fill="#ffff92"/>
<rect x="202.93" y="271.99" width="8.30" height="11.39" fill="#875f57"/>
<rect x="210.73" y="271.99" width="8.30" height="11.39" fill="#00cc66"/>
<rect x="218.53" y="271.99" width="8.30" height="11.39" fill="#875f57"/>
<rect x="226.32" y="271.99" width="8.30" height="11.39" fill="#ffff92"/>
<rect x="234.12" y="271.99" width="8.30" height="11.39" fill="#00cc66"/>
<rect x="241.92" y="271.99" width="8.30" height="11.39" fill="#ffff92"/>
<rect x="249.72" y="271.99" width="16.09" height="11.39" fill="#875f57"/>
<rect x="265.31" y="271.99" width="8.30" height="11.39" fill="#ffff92"/>
<rect x="273.11" y="271.99" width="8.30" height="11.39" fill="#33309a"/>
<rect x="280.90" y="271.99" width="7.80" height="11.39" fill="#ffff92"/>
<rect x="39.20" y="282.88" width="8.30" height="11.39" fill="#ffff92"/>
<rect x="47.00" y="282.88" width="8.30" height="11.39" fill="#33309a"/>
<rect x="54.79" y="282.88" width="16.09" height="11.39" fill="#00cc66"/>
<rect x="70.39" y="282.88" width="8.30" height="11.39" fill="#33309a"/>
<rect x="78.18" y="282.88" width="8.30" height="11.39" fill="#875f57"/>
<rect x="85.98" y="282.88" width="23.89" height="11.39" fill="#ffff92"/>
<rect x="109.37" y="282.88" width="8.30" height="11.39" fill="#00cc66"/>
<rect x="117.17" y="282.88" width="16.09" height="11.39" fill="#33309a"/>
<rect x="132.76" y="282.88" width="8.30" height="11.39" fill="#875f57"/>
<rect x="140.56" y="282.88" width="8.30" height="11.39" fill="#33309a"/>
<rect x="148.36" y="282.88" width="8.30" height="11.39" fill="#875f57"/>
<rect x="156.15" y="282.88" width="8.30" height="11.39" fill="#ffff92"/>
<rect x="163.95" y="282.88" width="8.30" height="11.39" fill="#00cc66"/>
<rect x="171.75" y="282.88" width="8.30" height="11.39" fill="#875f57"/>
<rect x="179.54" y="282.88" width="8.30" height="11.39" fill="#ffff92"/>
<rect x="187.34" y="282.88" width="8.30" height="11.39" fill="#875f57"/>
<rect x="195.14" y="282.88" width="8.30" height="11.39" fill="#33309a"/>
<rect x="202.93" y="282.88" width="8.30" height="11.39" fill="#875f57"/>
<rect x="210.73" y="282.88" width="8.30" height="11.39" fill="#00cc66"/>
<rect x="218.53" y="282.88" width="8.30" height="11.39" fill="#ffff92"/>
<rect x="226.32" y="282.88" width="23.89" height="11.39" fill="#875f57"/>
<rect x="249.72" y="282.88" width="16.09" height="11.39" fill="#00cc66"/>
<rect x="265.31" y="282.88" width="8.30" height="11.39" fill="#875f57"/>
<rect x="273.11" y="282.88" width="8.30" height="11.39" fill="#ffff92"/>
<rect x="280.90" y="282.88" width="7.80" height="11.39" fill="#00cc66"/>
<rect x="39.20" y="293.76" width="8.30" height="11.39" fill="#33309a"/>
<rect x="47.00" y="293.76" width="23.89" height="11.39" fill="#00cc66"/>
<rect x="70.39" y="293.76" width="8.30" height="11.39" fill="#875f57"/>
<rect x="78.18" y="293.76" width="16.09" height="11.39" fill="#00cc66"/>
<rect x="93.78" y="293.76" width="8.30" height="11.39" fill="#33309a"/>
<rect x="101.58" y="293.76" width="8.30" height="11.39" fill="#ffff92"/>
<rect x="109.37" y="293.76" width="16.09" height="11.39" fill="#33309a"/>
<rect x="124.97" y="293.76" width="16.09" height="11.39" fill="#875f57"/>
<rect x="140.56" y="293.76" width="8.30" height="11.39" fill="#00cc66"/>
<rect x="148.36" y="293.76" width="16.09" height="11.39" fill="#ffff92"/>
<rect x="163.95" y="293.76" width="8.30" height="11.39" fill="#33309a"/>
<rect x="171.75" y="293.76" width="8.30" height="11.39" fill="#875f57"/>
<rect x="179.54" y="293.76" width="8.30" height="11.39" fill="#00cc66"/>
<rect x="187.34" y="293.76" width="8.30" height="11.39" fill="#ffff92"/>
<rect x="195.14" y="293.76" width="8.30" height="11.39" fill="#00cc66"/>
<rect x="202.93" y="293.76" width="16.09" height="11.39" fill="#ffff92"/>
<rect x="218.53" y="293.76" width="8.30" height="11.39" fill="#33309a"/>
<rect x="226.32" y="293.76" width="8.30" height="11.39" fill="#ffff92"/>
<rect x="234.12" y="293.76" width="8.30" height="11.39" fill="#33309a"/>
<rect x="241.92" y="293.76" width="8.30" height="11.39" fill="#00cc66"/>
<rect x="249.72" y="293.76" width="8.30" height="11.39" fill="#33309a"/>
<rect x="257.51" y="293.76" width="16.09" height="11.39" fill="#875f57"/>
<rect x="273.11" y="293.76" width="8.30" height="11.39" fill="#ffff92"/>
<rect x="280.90" y="293.76" width="7.80" height="11.39" fill="#33309a"/>
<rect x="39.20" y="304.65" width="16.09" height="11.39" fill="#00cc66"/>
<rect x="54.79" y="304.65" width="8.30" height="11.39" fill="#ffff92"/>
<rect x="62.59" y="304.65" width="31.69" height="11.39" fill="#00cc66"/>
<rect x="93.78" y="304.65" width="8.30" height="11.39" fill="#33309a"/>
<rect x="101.58" y="304.65" width="8.30" height="11.39" fill="#875f57"/>
<rect x="109.37" y="304.65" width="8.30" height="11.39" fill="#00cc66"/>
<rect x="117.17" y="304.65" width="31.69" height="11.39" fill="#ffff92"/>
<rect x="148.36" y="304.65" width="8.30" height="11.39" fill="#33309a"/>
<rect x="156.15" y="304.65" width="8.30" height="11.39" fill="#875f57"/>
<rect x="163.95" y="304.65" width="8.30" height="11.39" fill="#33309a"/>
<rect x="171.75" y="304.65" width="8.30" height="11.39" fill="#00cc66"/>
<rect x="179.54" y="304.65" width="8.30" height="11.39" fill="#33309a"/>
<rect x="187.34" y="304.65" width="8.30" height="11.39" fill="#875f57"/>
<rect x="195.14" y="304.65" width="8.30" height="11.39" fill="#ffff92"/>
<rect x="202.93" y="304.65" width="23.89" height="11.39" fill="#875f57"/>
<rect x="226.32" y="304.65" width="8.30" height="11.39" fill="#33309a"/>
<rect x="234.12" y="304.65" width="23.89" height="11.39" fill="#875f57"/>
<rect x="257.51" y="304.65" width="8.30" height="11.39" fill="#00cc66"/>
<rect x="265.31" y="304.65" width="8.30" height="11.39" fill="#33309a"/>
<rect x="273.11" y="304.65" width="15.59" height="11.39" fill="#00cc66"/>
<rect x="39.20" y="315.54" width="8.30" height="11.39" fill="#00cc66"/>
<rect x="47.00" y="315.54" width="16.09" height="11.39" fill="#ffff92"/>
<rect x="62.59" y="315.54" width="8.30" height="11.39" fill="#33309a"/>
<rect x="70.39" y="315.54" width="8.30" height="11.39" fill="#875f57"/>
<rect x="78.18" y="315.54" width="23.89" height="11.39" fill="#33309a"/>
<rect x="101.58" y="315.54" width="16.09" height="11.39" fill="#875f57"/>
<rect x="117.17" y="315.54" width="8.30" height="11.39" fill="#ffff92"/>
<rect x="124.97" y="315.54" width="8.30" height="11.39" fill="#33309a"/>
<rect x="132.76" y="315.54" width="16.09" height="11.39" fill="#875f57"/>
<rect x="148.36" y="315.54" width="8.30" height="11.39" fill="#00cc66"/>
<rect x="156.15" y="315.54" width="16.09" height="11.39" fill="#875f57"/>
<rect x="171.75" y="315.54" width="8.30" height="11.39" fill="#33309a"/>
<rect x="179.54" y="315.54" width="8.30" height="11.39" fill="#ffff92"/>
<rect x="187.34" y="315.54" width="16.09" height="11.39" fill="#875f57"/>
<rect x="202.93" y="315.54" width="8.30" height="11.39" fill="#ffff92"/>
<rect x="210.73" y="315.54" width="8.30" height="11.39" fill="#33309a"/>
<rect x="218.53" y="315.54" width="8.30" height="11.39" fill="#ffff92"/>
<rect x="226.32" y="315.54" width="8.30" height="11.39" fill="#875f57"/>
<rect x="234.12" y="315.54" width="8.30" height="11.39" fill="#ffff92"/>
<rect x="241.92" y="315.54" width="8.30" height="11.39" fill="#33309a"/>
<rect x="249.72" y="315.54" width="16.09" height="11.39" fill="#00cc66"/>
<rect x="265.31" y="315.54" width="8.30" height="11.39" fill="#33309a"/>
<rect x="273.11" y="315.54" width="8.30" height="11.39" fill="#ffff92"/>
<rect x="280.90" y="315.54" width="7.80" height="11.39" fill="#00cc66"/>
<rect x="39.20" y="326.43" width="8.30" height="11.39" fill="#00cc66"/>
<rect x="47.00" y="326.43" width="23.89" height="11.39" fill="#33309a"/>
<rect x="70.39" y="326.43" width="8.30" height="11.39" fill="#875f57"/>
<rect x="78.18" y="326.43" width="31.69" height="11.39" fill="#ffff92"/>
<rect x="109.37" y="326.43" width="16.09" height="11.39" fill="#875f57"/>
<rect x="124.97" y="326.43" width="8.30" height="11.39" fill="#00cc66"/>
<rect x="132.76" y="326.43" width="8.30" height="11.39" fill="#33309a"/>
<rect x="140.56" y="326.43" width="8.30" height="11.39" fill="#00cc66"/>
<rect x="148.36" y="326.43" width="16.09" height="11.39" fill="#ffff92"/>
<rect x="163.95" y="326.43" width="16.09" height="11.39" fill="#875f57"/>
<rect x="179.54" y="326.43" width="8.30" height="11.39" fill="#33309a"/>
<rect x="187.34" y="326.43" width="8.30" height="11.39" fill="#875f57"/>
<rect x="195.14" y="326.43" width="8.30" height="11.39" fill="#33309a"/>
<rect x="202.93" y="326.43" width="8.30" height="11.39" fill="#875f57"/>
<rect x="210.73" y="326.43" width="8.30" height="11.39" fill="#ffff92"/>
<rect x="218.53" y="326.43" width="16.09" height="11.39" fill="#33309a"/>
<rect x="234.12" y="326.43" width="8.30" height="11.39" fill="#00cc66"/>
<rect x="241.92" y="326.43" width="8.30" height="11.39" fill="#33309a"/>
<rect x="249.72" y="326.43" width="38.98" height="11.39" fill="#ffff92"/>
<rect x="39.20" y="337.31" width="8.30" height="11.39" fill="#33309a"/>
<rect x="47.00" y="337.31" width="8.30" height="11.39" fill="#875f57"/>
<rect x="54.79" y="337.31" width="16.09" height="11.39" fill="#ffff92"/>
<rect x="70.39" y="337.31" width="8.30" height="11.39" fill="#00cc66"/>
<rect x="78.18" y="337.31" width="23.89" height="11.39" fill="#875f57"/>
<rect x="101.58" y="337.31" width="23.89" height="11.39" fill="#33309a"/>
<rect x="124.97" y="337.31" width="8.30" height="11.39" fill="#ffff92"/>
<rect x="132.76" y="337.31" width="8.30" height="11.39" fill="#875f57"/>
<rect x="140.56" y="337.31" width="8.30" height="11.39" fill="#ffff92"/>
<rect x="148.36" y="337.31" width="23.89" height="11.39" fill="#875f57"/>
<rect x="171.75" y="337.31" width="8.30" height="11.39" fill="#00cc66"/>
<rect x="179.54" y="337.31" width="8.30" height="11.39" fill="#875f57"/>
<rect x="187.34" y="337.31" width="8.30" height="11.39" fill="#ffff92"/>
<rect x="195.14" y="337.31" width="8.30" height="11.39" fill="#875f57"/>
<rect x="202.93" y="337.31" width="8.30" height="11.39" fill="#ffff92"/>
<rect x="210.73" y="337.31" width="16.09" height="11.39" fill="#33309a"/>
<rect x="226.32" y="337.31" width="8.30" height="11.39" fill="#00cc66"/>
<rect x="234.12" y="337.31" width="16.09" height="11.39" fill="#ffff92"/>
<rect x="249.72" y="337.31" width="16.09" height="11.39" fill="#00cc66"/>
<rect x="265.31" y="337.31" width="8.30" height="11.39" fill="#ffff92"/>
<rect x="273.11" y="337.31" width="15.59" height="11.39" fill="#00cc66"/>
<rect x="39.20" y="348.20" width="8.30" height="11.39" fill="#00cc66"/>
<rect x="47.00" y="348.20" width="8.30" height="11.39" fill="#33309a"/>
<rect x="54.79" y="348.20" width="8.30" height="11.39" fill="#ffff92"/>
<rect x="62.59" y="348.20" width="16.09" height="11.39" fill="#875f57"/>
<rect x="78.18" y="348.20" width="8.30" height="11.39" fill="#33309a"/>
<rect x="85.98" y="348.20" width="8.30" height="11.39" fill="#ffff92"/>
<rect x="93.78" y="348.20" width="16.09" height="11.39" fill="#00cc66"/>
<rect x="109.37" y="348.20" width="23.89" height="11.39" fill="#ffff92"/>
<rect x="132.76" y="348.20" width="23.89" height="11.39" fill="#875f57"/>
<rect x="156.15" y="348.20" width="8.30" height="11.39" fill="#ffff92"/>
<rect x="163.95" y="348.20" width="8.30" height="11.39" fill="#33309a"/>
<rect x="171.75" y="348.20" width="8.30" height="11.39" fill="#875f57"/>
<rect x="179.54" y="348.20" width="31.69" height="11.39" fill="#33309a"/>
<rect x="210.73" y="348.20" width="8.30" height="11.39" fill="#00cc66"/>
<rect x="218.53" y="348.20" width="23.89" height="11.39" fill="#ffff92"/>
<rect x="241.92" y="348.20" width="16.09" height="11.39" fill="#00cc66"/>
<rect x="257.51" y="348.20" width="8.30" height="11.39" fill="#875f57"/>
<rect x="265.31" y="348.20" width="8.30" height="11.39" fill="#00cc66"/>
<rect x="273.11" y="348.20" width="15.59" height="11.39" fill="#33309a"/>
<rect x="39.20" y="359.09" width="16.09" height="11.39" fill="#875f57"/>
<rect x="54.79" y="359.09" width="8.30" height="11.39" fill="#ffff92"/>
<rect x="62.59" y="359.09" width="8.30" height="11.39" fill="#33309a"/>
<rect x="70.39" y="359.09" width="8.30" height="11.39" fill="#00cc66"/>
<rect x="78.18" y="359.09" width="8.30" height="11.39" fill="#33309a"/>
<rect x="85.98" y="359.09" width="8.30" height="11.39" fill="#ffff92"/>
<rect x="93.78" y="359.09" width="16.09" height="11.39" fill="#875f57"/>
<rect x="109.37" y="359.09" width="8.30" height="11.39" fill="#ffff92"/>
<rect x="117.17" y="359.09" width="8.30" height="11.39" fill="#33309a"/>
<rect x="124.97" y="359.09" width="8.30" height="11.39" fill="#ffff92"/>
<rect x="132.76" y="359.09" width="8.30" height="11.39" fill="#33309a"/>
<rect x="140.56" y="359.09" width="8.30" height="11.39" fill="#ffff92"/>
<rect x="148.36" y="359.09" width="23.89" height="11.39" fill="#875f57"/>
<rect x="171.75" y="359.09" width="8.30" height="11.39" fill="#33309a"/>
<rect x="179.54" y="359.09" width="16.09" height="11.39" fill="#00cc66"/>
<rect x="195.14" y="359.09" width="8.30" height="11.39" fill="#875f57"/>
<rect x="202.93" y="359.09" width="16.09" height="11.39" fill="#ffff92"/>
<rect x="218.53" y="359.09" width="8.30" height="11.39" fill="#00cc66"/>
<rect x="226.32" y="359.09" width="8.30" height="11.39" fill="#ffff92"/>
<rect x="234.12" y="359.09" width="8.30" height="11.39" fill="#33309a"/>
<rect x="241.92" y="359.09" width="8.30" height="11.39" fill="#00cc66"/>
<rect x="249.72" y="359.09" width="16.09" height="11.39" fill="#33309a"/>
<rect x="265.31" y="359.09" width="8.30" height="11.39" fill="#ffff92"/>
<rect x="273.11" y="359.09" width="8.30" height="11.39" fill="#875f57"/>
<rect x="280.90" y="359.09" width="7.80" height="11.39" fill="#ffff92"/>
<rect x="39.20" y="369.98" width="8.30" height="11.39" fill="#33309a"/>
<rect x="47.00" y="369.98" width="8.30" height="11.39" fill="#875f57"/>
<rect x="54.79" y="369.98" width="8.30" height="11.39" fill="#00cc66"/>
<rect x="62.59" y="369.98" width="16.09" height="11.39" fill="#33309a"/>
<rect x="78.18" y="369.98" width="8.30" height="11.39" fill="#ffff92"/>
<rect x="85.98" y="369.98" width="8.30" height="11.39" fill="#33309a"/>
<rect x="93.78" y="369.98" width="8.30" height="11.39" fill="#ffff92"/>
<rect x="101.58" y="369.98" width="8.30" height="11.39" fill="#33309a"/>
<rect x="109.37" y="369.98" width="8.30" height="11.39" fill="#ffff92"/>
<rect x="117.17" y="369.98" width="39.48" height="11.39" fill="#875f57"/>
<rect x="156.15" y="369.98" width="8.30" height="11.39" fill="#00cc66"/>
<rect x="163.95" y="369.98" width="16.09" height="11.39" fill="#33309a"/>
<rect x="179.54" y="369.98" width="8.30" height="11.39" fill="#ffff92"/>
<rect x="187.34" y="369.98" width="8.30" height="11.39" fill="#875f57"/>
<rect x="195.14" y="369.98" width="8.30" height="11.39" fill="#00cc66"/>
<rect x="202.93" y="369.98" width="8.30" height="11.39" fill="#ffff92"/>
<rect x="210.73" y="369.98" width="8.30" height="11.39" fill="#00cc66"/>
<rect x="218.53" y="369.98" width="8.30" height="11.39" fill="#33309a"/>
<rect x="226.32" y="369.98" width="8.30" height="11.39" fill="#00cc66"/>
<rect x="234.12" y="369.98" width="16.09" height="11.39" fill="#33309a"/>
<rect x="249.72" y="369.98" width="16.09" height="11.39" fill="#ffff92"/>
<rect x="265.31" y="369.98" width="8.30" height="11.39" fill="#00cc66"/>
<rect x="273.11" y="369.98" width="8.30" height="11.39" fill="#ffff92"/>
<rect x="280.90" y="369.98" width="7.80" height="11.39" fill="#00cc66"/>
<rect x="39.20" y="380.86" width="8.30" height="11.39" fill="#ffff92"/>
<rect x="47.00" y="380.86" width="8.30" height="11.39" fill="#33309a"/>
<rect x="54.79" y="380.86" width="8.30" height="11.39" fill="#00cc66"/>
<rect x="62.59" y="380.86" width="8.30" height="11.39" fill="#875f57"/>
<rect x="70.39" y="380.86" width="8.30" height="11.39" fill="#ffff92"/>
<rect x="78.18" y="380.86" width="8.30" height="11.39" fill="#33309a"/>
<rect x="85.98" y="380.86" width="8.30" height="11.39" fill="#875f57"/>
<rect x="93.78" y="380.86" width="8.30" height="11.39" fill="#00cc66"/>
<rect x="101.58" y="380.86" width="31.69" height="11.39" fill="#875f57"/>
<rect x="132.76" y="380.86" width="8.30" height="11.39" fill="#33309a"/>
<rect x="140.56" y="380.86" width="8.30" height="11.39" fill="#ffff92"/>
<rect x="148.36" y="380.86" width="8.30" height="11.39" fill="#00cc66"/>
<rect x="156.15" y="380.86" width="16.09" height="11.39" fill="#875f57"/>
<rect x="171.75" y="380.86" width="8.30" height="11.39" fill="#ffff92"/>
<rect x="179.54" y="380.86" width="8.30" height="11.39" fill="#00cc66"/>
<rect x="187.34" y="380.86" width="16.09" height="11.39" fill="#ffff92"/>
<rect x="202.93" y="380.86" width="8.30" height="11.39" fill="#00cc66"/>
<rect x="210.73" y="380.86" width="16.09" height="11.39" fill="#33309a"/>
<rect x="226.32" y="380.86" width="23.89" height="11.39" fill="#ffff92"/>
<rect x="249.72" y="380.86" width="8.30" height="11.39" fill="#00cc66"/>
<rect x="257.51" y="380.86" width="16.09" height="11.39" fill="#875f57"/>
<rect x="273.11" y="380.86" width="8.30" height="11.39" fill="#ffff92"/>
<rect x="280.90" y="380.86" width="7.80" height="11.39" fill="#00cc66"/>
<rect x="39.20" y="391.75" width="8.30" height="11.39" fill="#875f57"/>
<rect x="47.00" y="391.75" width="8.30" height="11.39" fill="#ffff92"/>
<rect x="54.79" y="391.75" width="8.30" height="11.39" fill="#33309a"/>
<rect x="62.59" y="391.75" width="8.30" height="11.39" fill="#875f57"/>
<rect x="70.39" y="391.75" width="8.30" height="11.39" fill="#00cc66"/>
<rect x="78.18" y="391.75" width="8.30" height="11.39" fill="#33309a"/>
<rect x="85.98" y="391.75" width="23.89" height="11.39" fill="#875f57"/>
<rect x="109.37" y="391.75" width="8.30" height="11.39" fill="#00cc66"/>
<rect x="117.17" y="391.75" width="8.30" height="11.39" fill="#875f57"/>
<rect x="124.97" y="391.75" width="8.30" height="11.39" fill="#00cc66"/>
<rect x="132.76" y="391.75" width="8.30" height="11.39" fill="#33309a"/>
<rect x="140.56" y="391.75" width="8.30" height="11.39" fill="#875f57"/>
<rect x="148.36" y="391.75" width="8.30" height="11.39" fill="#ffff92"/>
<rect x="156.15" y="391.75" width="31.69" height="11.39" fill="#00cc66"/>
<rect x="187.34" y="391.75" width="8.30" height="11.39" fill="#33309a"/>
<rect x="195.14" y="391.75" width="8.30" height="11.39" fill="#00cc66"/>
<rect x="202.93" y="391.75" width="8.30" height="11.39" fill="#875f57"/>
<rect x="210.73" y="391.75" width="8.30" height="11.39" fill="#33309a"/>
<rect x="218.53" y="391.75" width="8.30" height="11.39" fill="#00cc66"/>
<rect x="226.32" y="391.75" width="8.30" height="11.39" fill="#ffff92"/>
<rect x="234.12" y="391.75" width="8.30" height="11.39" fill="#33309a"/>
<rect x="241.92" y="391.75" width="8.30" height="11.39" fill="#875f57"/>
<rect x="249.72" y="391.75" width="8.30" height="11.39" fill="#ffff92"/>
<rect x="257.51" y="391.75" width="8.30" height="11.39" fill="#33309a"/>
<rect x="265.31" y="391.75" width="8.30" height="11.39" fill="#ffff92"/>
<rect x="273.11" y="391.75" width="15.59" height="11.39" fill="#00cc66"/>
<rect x="39.20" y="402.64" width="8.30" height="11.39" fill="#00cc66"/>
<rect x="47.00" y="402.64" width="8.30" height="11.39" fill="#33309a"/>
<rect x="54.79" y="402.64" width="8.30" height="11.39" fill="#00cc66"/>
<rect x="62.59" y="402.64" width="8.30" height="11.39" fill="#ffff92"/>
<rect x="70.39" y="402.64" width="23.89" height="11.39" fill="#875f57"/>
<rect x="93.78" y="402.64" width="8.30" height="11.39" fill="#33309a"/>
<rect x="101.58" y="402.64" width="8.30" height="11.39" fill="#00cc66"/>
<rect x="109.37" y="402.64" width="8.30" height="11.39" fill="#33309a"/>
<rect x="117.17" y="402.64" width="16.09" height="11.39" fill="#875f57"/>
<rect x="132.76" y="402.64" width="16.09" height="11.39" fill="#ffff92"/>
<rect x="148.36" y="402.64" width="16.09" height="11.39" fill="#00cc66"/>
<rect x="163.95" y="402.64" width="8.30" height="11.39" fill="#875f57"/>
<rect x="171.75" y="402.64" width="23.89" height="11.39" fill="#33309a"/>
<rect x="195.14" y="402.64" width="8.30" height="11.39" fill="#875f57"/>
<rect x="202.93" y="402.64" width="8.30" height="11.39" fill="#00cc66"/>
<rect x="210.73" y="402.64" width="8.30" height="11.39" fill="#875f57"/>
<rect x="218.53" y="402.64" width="8.30" height="11.39" fill="#ffff92"/>
<rect x="226.32" y="402.64" width="8.30" height="11.39" fill="#33309a"/>
<rect x="234.12" y="402.64" width="8.30" height="11.39" fill="#00cc66"/>
<rect x="241.92" y="402.64" width="8.30" height="11.39" fill="#33309a"/>
<rect x="249.72" y="402.64" width="8.30" height="11.39" fill="#00cc66"/>
<rect x="257.51" y="402.64" width="8.30" height="11.39" fill="#33309a"/>
<rect x="265.31" y="402.64" width="8.30" height="11.39" fill="#ffff92"/>
<rect x="273.11" y="402.64" width="15.59" height="11.39" fill="#875f57"/>
<rect x="39.20" y="413.53" width="8.30" height="11.39" fill="#ffff92"/>
<rect x="47.00" y="413.53" width="8.30" height="11.39" fill="#00cc66"/>
<rect x="54.79" y="413.53" width="16.09" height="11.39" fill="#875f57"/>
<rect x="70.39" y="413.53" width="8.30" height="11.39" fill="#00cc66"/>
<rect x="78.18" y="413.53" width="8.30" height="11.39" fill="#33309a"/>
<rect x="85.98" y="413.53" width="8.30" height="11.39" fill="#00cc66"/>
<rect x="93.78" y="413.53" width="8.30" height="11.39" fill="#33309a"/>
<rect x="101.58" y="413.53" width="8.30" height="11.39" fill="#875f57"/>
<rect x="109.37" y="413.53" width="16.09" height="11.39" fill="#ffff92"/>
<rect x="124.97" y="413.53" width="16.09" height="11.39" fill="#00cc66"/>
<rect x="140.56" y="413.53" width="8.30" height="11.39" fill="#875f57"/>
<rect x="148.36" y="413.53" width="8.30" height="11.39" fill="#33309a"/>
<rect x="156.15" y="413.53" width="8.30" height="11.39" fill="#00cc66"/>
<rect x="163.95" y="413.53" width="8.30" height="11.39" fill="#33309a"/>
<rect x="171.75" y="413.53" width="8.30" height="11.39" fill="#00cc66"/>
<rect x="179.54" y="413.53" width="16.09" height="11.39" fill="#ffff92"/>
<rect x="195.14" y="413.53" width="8.30" height="11.39" fill="#875f57"/>
<rect x="202.93" y="413.53" width="8.30" height="11.39" fill="#33309a"/>
<rect x="210.73" y="413.53" width="8.30" height="11.39" fill="#ffff92"/>
<rect x="218.53" y="413.53" width="16.09" height="11.39" fill="#33309a"/>
<rect x="234.12" y="413.53" width="8.30" height="11.39" fill="#ffff92"/>
<rect x="241.92" y="413.53" width="8.30" height="11.39" fill="#00cc66"/>
<rect x="249.72" y="413.53" width="8.30" height="11.39" fill="#33309a"/>
<rect x="257.51" y="413.53" width="8.30" height="11.39" fill="#00cc66"/>
<rect x="265.31" y="413.53" width="8.30" height="11.39" fill="#ffff92"/>
<rect x="273.11" y="413.53" width="8.30" height="11.39" fill="#33309a"/>
<rect x="280.90" y="413.53" width="7.80" height="11.39" fill="#ffff92"/>
<rect x="39.20" y="424.41" width="8.30" height="10.89" fill="#ffff92"/>
<rect x="47.00" y="424.41" width="8.30" height="10.89" fill="#33309a"/>
<rect x="54.79" y="424.41" width="8.30" height="10.89" fill="#875f57"/>
<rect x="62.59" y="424.41" width="16.09" height="10.89" fill="#33309a"/>
<rect x="78.18" y="424.41" width="16.09" height="10.89" fill="#875f57"/>
<rect x="93.78" y="424.41" width="16.09" height="10.89" fill="#ffff92"/>
<rect x="109.37" y="424.41" width="8.30" height="10.89" fill="#00cc66"/>
<rect x="117.17" y="424.41" width="8.30" height="10.89" fill="#875f57"/>
<rect x="124.97" y="424.41" width="16.09" height="10.89" fill="#00cc66"/>
<rect x="140.56" y="424.41" width="16.09" height="10.89" fill="#33309a"/>
<rect x="156.15" y="424.41" width="16.09" height="10.89" fill="#00cc66"/>
<rect x="171.75" y="424.41" width="8.30" height="10.89" fill="#ffff92"/>
<rect x="179.54" y="424.41" width="16.09" height="10.89" fill="#875f57"/>
<rect x="195.14" y="424.41" width="8.30" height="10.89" fill="#33309a"/>
<rect x="202.93" y="424.41" width="8.30" height="10.89" fill="#ffff92"/>
<rect x="210.73" y="424.41" width="23.89" height="10.89" fill="#00cc66"/>
<rect x="234.12" y="424.41" width="8.30" height="10.89" fill="#ffff92"/>
<rect x="241.92" y="424.41" width="8.30" height="10.89" fill="#00cc66"/>
<rect x="249.72" y="424.41" width="8.30" height="10.89" fill="#875f57"/>
<rect x="257.51" y="424.41" width="8.30" height="10.89" fill="#00cc66"/>
<rect x="265.31" y="424.41" width="8.30" height="10.89" fill="#ffff92"/>
<rect x="273.11" y="424.41" width="8.30" height="10.89" fill="#875f57"/>
<rect x="280.90" y="424.41" width="7.80" height="10.89" fill="#33309a"/>
</g>
<rect x="39.20" y="261.10" width="249.50" height="174.20" fill="none" stroke="#1a1a1a" stroke-width="0.9"/>
<line x1="34.00" y1="419.36" x2="39.20" y2="419.36" stroke="#1a1a1a" stroke-width="1"/>
<text x="30.30" y="424.35" text-anchor="end" font-size="12.0">2</text>
<line x1="34.00" y1="397.53" x2="39.20" y2="397.53" stroke="#1a1a1a" stroke-width="1"/>
<text x="30.30" y="402.45" text-anchor="end" font-size="12.0">4</text>
<line x1="34.00" y1="375.70" x2="39.20" y2="375.70" stroke="#1a1a1a" stroke-width="1"/>
<text x="30.30" y="380.55" text-anchor="end" font-size="12.0">6</text>
<line x1="34.00" y1="353.87" x2="39.20" y2="353.87" stroke="#1a1a1a" stroke-width="1"/>
<text x="30.30" y="358.65" text-anchor="end" font-size="12.0">8</text>
<line x1="34.00" y1="332.04" x2="39.20" y2="332.04" stroke="#1a1a1a" stroke-width="1"/>
<text x="30.80" y="336.75" text-anchor="end" font-size="12.0">10</text>
<line x1="34.00" y1="310.21" x2="39.20" y2="310.21" stroke="#1a1a1a" stroke-width="1"/>
<text x="30.80" y="314.85" text-anchor="end" font-size="12.0">12</text>
<line x1="34.00" y1="288.37" x2="39.20" y2="288.37" stroke="#1a1a1a" stroke-width="1"/>
<text x="30.80" y="292.94" text-anchor="end" font-size="12.0">14</text>
<line x1="34.00" y1="266.54" x2="39.20" y2="266.54" stroke="#1a1a1a" stroke-width="1"/>
<text x="30.80" y="271.04" text-anchor="end" font-size="12.0">16</text>
<line x1="66.49" y1="435.30" x2="66.49" y2="440.30" stroke="#1a1a1a" stroke-width="1"/>
<text x="66.49" y="452.50" text-anchor="middle" font-size="12.0">4</text>
<line x1="97.68" y1="435.30" x2="97.68" y2="440.30" stroke="#1a1a1a" stroke-width="1"/>
<text x="97.68" y="452.50" text-anchor="middle" font-size="12.0">8</text>
<line x1="128.86" y1="435.30" x2="128.86" y2="440.30" stroke="#1a1a1a" stroke-width="1"/>
<text x="128.86" y="452.50" text-anchor="middle" font-size="12.0">12</text>
<line x1="160.05" y1="435.30" x2="160.05" y2="440.30" stroke="#1a1a1a" stroke-width="1"/>
<text x="160.05" y="452.50" text-anchor="middle" font-size="12.0">16</text>
<line x1="191.24" y1="435.30" x2="191.24" y2="440.30" stroke="#1a1a1a" stroke-width="1"/>
<text x="191.24" y="452.50" text-anchor="middle" font-size="12.0">20</text>
<line x1="222.43" y1="435.30" x2="222.43" y2="440.30" stroke="#1a1a1a" stroke-width="1"/>
<text x="222.43" y="452.50" text-anchor="middle" font-size="12.0">24</text>
<line x1="253.61" y1="435.30" x2="253.61" y2="440.30" stroke="#1a1a1a" stroke-width="1"/>
<text x="253.61" y="452.50" text-anchor="middle" font-size="12.0">28</text>
<line x1="284.80" y1="435.30" x2="284.80" y2="440.30" stroke="#1a1a1a" stroke-width="1"/>
<text x="284.80" y="452.50" text-anchor="middle" font-size="12.0">32</text>
<text x="11.80" y="340.00" text-anchor="middle" font-size="12.0" transform="rotate(-90 11.80 340.00)">Coding elements</text>
<text x="163.60" y="253.80" text-anchor="middle" font-size="12.0">Space-time-coding matrix</text>
<text x="164.60" y="467.90" text-anchor="middle" font-size="12.0">Time-coding sequences</text>
<clipPath id="cd"><rect x="389.70" y="261.10" width="289.00" height="179.30"/></clipPath>
<g clip-path="url(#cd)" fill="none" stroke-width="1.9" stroke-linejoin="round" stroke-linecap="round">
<path d="M391 444.4L391.3 430.2L392.9 417.7L394.5 410.3L396.1 404.8L397.7 400.4L399.3 396.6L400.9 393.3L402.5 390.4L404.1 387.7L405.8 385.3L407.4 383.1L409 381.2L410.6 379.6L412.2 378.3L413.8 377.3L415.4 376.7L417 376.5L418.6 376.9L420.2 378L421.8 379.9L423.4 382.9L425 387.5L426.6 394.3L428.2 405.1L429.8 424.3L430.6 444.4M432.4 444.4L433.1 427.5L434.7 400.4L436.3 384L437.9 372.3L439.5 363.4L441.1 356.3L442.7 350.6L444.3 346.1L445.9 342.7L447.5 340.2L449.1 338.6L450.7 338.1L452.3 338.5L453.9 340.1L455.5 342.9L457.1 347.3L458.7 353.7L460.3 363L461.9 377L463.6 401.6L464.5 444.4M465.8 444.4L466.8 404.1L468.4 382.2L470 371.1L471.6 365L473.2 362.2L474.8 361.8L476.4 363.5L478 367L479.6 371.9L481.2 377.6L482.8 382.6L484.4 385.9L486 387.8L487.6 389.9L489.2 394.1L490.9 401.6L492.5 412.5L494.1 418.9L495.7 409.3L497.3 397.1L498.9 388.9L500.5 384.7L502.1 384.1L503.7 387.3L505.3 394.8L506.9 409.1L508.8 444.4M510.8 444.4L511.7 418.7L513.3 401.5L514.9 392L516.5 386.4L518.1 382.8L519.8 380.5L521.4 379.1L523 378.9L524.6 380.1L526.2 383.1L527.8 388.6L529.4 396.7L531 406.2L532.6 410.6L534.2 405.6L535.8 398.3L537.4 393.1L539 390.3L542.2 387.8L543.8 385.7L547 380.3L548.6 378.9L550.3 379.5L551.9 382.4L553.5 387.7L555.1 394.5L556.7 399.1L558.3 397L559.9 390.9L561.5 385.5L563.1 382.5L564.7 382.1L566.3 384L567.9 387.8L569.5 392.6L571.1 396.7L572.7 398.4L574.3 398.5L575.9 399L577.5 401.9L579.2 408.8L580.8 422.2L582.3 444.4M582.4 444.4L584 438.1L585.6 415.2L587.2 401.4L588.8 393.4L590.4 389.4L592 388.6L593.6 390.8L595.2 396.4L596.8 406.8L598.4 425.6L599.2 444.4M601.3 444.4L603.2 412.8L604.8 399.2L606.5 391.1L608.1 386.2L609.7 383.6L611.3 382.9L612.9 383.9L614.5 386.5L616.1 390.8L617.7 397.1L619.3 406.1L620.9 419.1L623 444.4M625.2 444.4L627.3 419.9L628.9 408L630.5 399.8L632.1 393.8L633.7 389.4L635.4 386.2L637 383.8L638.6 382.2L640.2 381.3L641.8 380.9L643.4 380.9L645 381.5L646.6 382.4L648.2 383.7L649.8 385.4L651.4 387.4L653 389.8L654.6 392.4L656.2 395.4L657.8 398.6L661 405.8L662.6 409.7L665.9 418.3L669.1 427.8L670.7 433.1L672.3 438.8L673.7 444.4" stroke="#1f8a8a"/>
<path d="M394.5 444.4L396.1 438.8L397.7 434.3L399.3 430.4L402.5 423.5L405.8 417.5L409 412.2L412.2 407.5L413.8 405.4L415.4 403.6L417 402L418.6 400.8L420.2 399.8L421.8 399.1L423.4 398.8L425 398.7L429.8 399.1L431.4 398.8L433.1 397.9L434.7 396.2L436.3 393.8L441.1 385.1L442.7 382.9L444.3 381.4L445.9 381L447.5 381.8L449.1 384.3L450.7 389.2L452.3 397.9L453.9 413.5L455.5 440.5L457.1 420.2L458.7 393.9L460.3 377.3L461.9 365.6L463.6 356.8L465.2 350.1L466.8 345L468.4 341.4L470 339L471.6 337.8L473.2 337.7L474.8 338.9L476.4 341.2L478 345L479.6 350.2L481.2 357.2L482.8 366.1L486 388.1L487.6 395L489.2 394.3L490.9 390.6L492.5 387.9L494.1 386.8L495.7 386.9L497.3 387.1L498.9 386.7L500.5 385.5L502.1 383.9L503.7 383L505.3 383.1L506.9 384.7L508.5 387.8L510.1 392.2L513.3 401.9L514.9 405.2L518.1 409.2L521.4 414.5L523 414.8L524.6 410.7L527.8 396.7L529.4 391L531 386.9L532.6 384.4L534.2 383.4L535.8 383.6L537.4 384.9L539 387.1L540.6 390L542.2 393.5L543.8 397.3L545.4 401.5L547 406.4L548.6 412.7L550.3 422L551.9 437.6L552.2 444.4M555.7 444.4L556.7 425.8L558.3 409L559.9 397.9L561.5 390.3L563.1 385.1L564.7 381.8L566.3 380.1L567.9 379.8L569.5 380.8L571.1 383L572.7 386.4L574.3 391.1L575.9 397.2L577.5 404.9L579.2 414.7L580.8 427.8L582.2 444.4M588.9 444.4L590.4 437.1L592 433L593.6 431.4L595.2 431.8L596.8 433.8L600 439.9L601.6 440.5L603.2 436.8L604.8 429.7L608.1 414.3L609.7 407.8L611.3 402.2L612.9 397.7L614.5 393.9L616.1 390.9L617.7 388.6L619.3 386.8L620.9 385.5L622.5 384.7L624.1 384.1L625.7 383.7L627.3 383.5L635.4 383L638.6 382.8L641.8 383.1L643.4 383.4L645 383.9L646.6 384.5L648.2 385.4L649.8 386.4L651.4 387.6L653 389L654.6 390.5L657.8 394.1L661 398.3L664.2 403.2L667.5 409L669.1 412.3L670.7 416L672.3 420.4L673.9 425.8L675.5 433.3L676.9 444.4" stroke="#f2a052"/>
<path d="M392 444.4L392.9 437.1L394.5 430L396.1 425L397.7 421.1L399.3 418L400.9 415.4L402.5 413.3L404.1 411.4L405.8 409.9L407.4 408.5L409 407.4L410.6 406.4L412.2 405.6L413.8 405L415.4 404.5L417 404.1L418.6 403.8L420.2 403.7L421.8 403.8L423.4 404L425 404.5L426.6 405.3L428.2 406.4L429.8 408L431.4 410.2L433.1 413L434.7 416.1L436.3 419L437.9 420L439.5 417.8L441.1 412.3L444.3 398.3L445.9 392.1L447.5 386.9L449.1 382.8L450.7 379.9L452.3 378.1L453.9 377.7L455.5 378.7L457.1 381.4L458.7 386.2L460.3 393.8L461.9 405.8L463.6 425.3L464.8 444.4M465.7 444.4L468.4 413.3L470 404.6L471.6 402.2L473.2 406.2L474.8 420.6L475.5 444.4M477.3 444.4L478 420L479.6 389.5L481.2 371.7L482.8 359.5L484.4 350.7L486 344.4L487.6 340.1L489.2 337.7L490.9 336.9L492.5 337.8L494.1 340.4L495.7 345L497.3 351.8L498.9 361.3L500.5 374.7L502.1 394L503.7 420L505.3 420.9L506.9 406.6L508.5 399.7L510.1 397.5L511.7 396.8L513.3 394.7L516.5 386.2L518.1 383.2L519.8 382.5L521.4 384.4L523 389.3L524.6 397.6L526.2 407.8L527.8 412.2L529.4 404.6L531 394.8L532.6 387.6L534.2 383.4L535.8 381.8L537.4 382.8L539 386.5L540.6 393.7L542.2 406.1L543.8 428.2L545.4 444.1L547 416.3L548.6 399L550.3 389.1L551.9 383.5L553.5 380.9L555.1 380.6L556.7 381.9L558.3 383.9L559.9 385.6L561.5 386.5L563.1 386.7L564.7 387.3L566.3 389.1L567.9 392.7L571.1 403L572.7 403.1L574.3 397.3L575.9 390.4L577.5 385.1L579.2 382.3L580.8 382L582.4 384.4L584 389.7L585.6 398L587.2 408.2L588.8 412.8L590.4 405.5L592 395.6L593.6 388.1L595.2 383.4L596.8 381.1L598.4 380.9L600 382.4L601.6 385.5L603.2 389.9L606.5 400L608.1 403.2L609.7 403.9L611.3 403L612.9 401.9L614.5 401.5L616.1 402.4L617.7 404.7L619.3 408.4L620.9 413.5L622.5 419L624.1 423.1L625.7 423.3L627.3 419.4L630.5 408.8L632.1 404.5L633.7 401.3L635.4 398.9L637 397.5L638.6 396.7L640.2 396.6L641.8 396.9L643.4 397.7L645 398.9L646.6 400.4L648.2 402.1L656.2 411.6L664.2 420.5L665.9 422.5L667.5 424.7L669.1 427.3L670.7 430.3L672.3 434.1L673.9 439.1L675.1 444.4" stroke="#8c2a2a"/>
<path d="M391 444.4L391.3 434.1L392.9 421.9L394.5 414.7L396.1 409.6L397.7 405.7L399.3 402.5L400.9 399.9L402.5 397.6L404.1 395.7L405.8 394.1L407.4 392.8L409 391.7L410.6 390.9L412.2 390.4L413.8 390.1L415.4 390.1L417 390.4L418.6 391L420.2 392L421.8 393.5L423.4 395.3L425 397.6L426.6 400.2L431.4 409.5L433.1 411.8L434.7 412.7L436.3 412.1L437.9 410.2L441.1 405.4L442.7 403.4L444.3 402.2L445.9 401.9L447.5 402.7L449.1 404.7L450.7 408.2L452.3 413.5L453.9 421.4L455.5 433L456.6 444.4M460.9 444.4L461.9 432.2L463.6 419.6L465.2 410.5L466.8 403.5L468.4 398.1L470 393.8L471.6 390.6L473.2 388.5L474.8 387.4L476.4 387.5L478 388.8L479.6 391.3L481.2 394.3L482.8 396.7L484.4 397L486 394.9L487.6 392L489.2 390.3L490.9 391.2L492.5 396.7L494.1 410.8L495.2 444.4M496.3 444.4L498.9 388.5L500.5 370.2L502.1 358.1L503.7 349.7L505.3 344.1L506.9 340.7L508.5 339.3L510.1 340L511.7 342.8L513.3 348.1L514.9 356.4L516.5 369.1L518.1 389.6L519.8 426L521.4 411.9L523 390.6L524.6 381.3L526.2 378.1L527.8 378.7L529.4 381.6L531 384.8L532.6 386.3L534.2 385.4L535.8 384L537.4 383.6L539 385.2L540.6 388.9L543.8 398.5L545.4 401.1L547 402.4L548.6 405.1L550.3 412.1L551.9 428.1L552.7 444.4M554.2 444.4L555.1 428.9L556.7 405.1L558.3 392L559.9 384.7L561.5 381.5L563.1 381.9L564.7 385.9L566.3 394.4L567.9 409.5L569.5 432.9L571.1 428L572.7 407.9L574.3 396.6L575.9 391.4L577.5 390.6L579.2 394.1L580.8 402.7L582.4 419.5L583.5 444.4M584.9 444.4L585.6 435.9L587.2 409.7L588.8 396.2L590.4 388.6L592 384.8L593.6 383.9L595.2 385.5L596.8 389.8L598.4 397.3L600 409.1L601.6 428.8L602.3 444.4M605.1 444.4L606.5 423.8L608.1 411.6L609.7 405.1L611.3 402.2L612.9 402.1L614.5 404.5L616.1 409.5L617.7 417.9L619.3 431.4L620.2 444.4M624 444.4L624.1 441.6L625.7 423.6L627.3 412.3L628.9 404.6L630.5 399.2L632.1 395.4L633.7 392.7L635.4 391.1L637 390.2L638.6 390L640.2 390.3L641.8 391L643.4 392.1L645 393.6L648.2 397.1L654.6 404.7L657.8 408.1L664.2 414.2L665.9 416L667.5 418L669.1 420.3L670.7 423.2L672.3 426.9L673.9 431.7L675.5 438.7L676.2 444.4" stroke="#5a4766"/>
<path d="M391.2 444.4L391.3 441.9L392.9 429.7L394.5 422.6L396.1 417.6L397.7 413.8L399.3 410.7L400.9 408.1L402.5 406L404.1 404.1L405.8 402.5L407.4 401L410.6 398.5L418.6 392.7L421.8 390.1L428.2 384.5L429.8 383.3L431.4 382.1L433.1 381.2L434.7 380.5L436.3 380.1L437.9 379.9L439.5 380.1L441.1 380.6L442.7 381.5L444.3 382.7L445.9 384.1L449.1 387.4L450.7 388.9L452.3 390L453.9 390.4L455.5 390.2L457.1 389.3L461.9 385.3L463.6 384.4L465.2 384.1L466.8 384.7L468.4 386.3L470 389.4L471.6 394.4L473.2 402.1L474.8 413.9L476.4 432.4L477.8 444.4M478.1 444.4L479.6 425.7L481.2 408.6L482.8 397.6L484.4 390.6L486 386.4L487.6 384.5L489.2 384.6L490.9 386.6L492.5 390.6L494.1 397L495.7 406.5L497.3 420.8L498.8 444.4M502.1 444.4L503.7 425.2L505.3 415.9L506.9 412.3L508.5 414.2L510.1 423.4L511.7 441L513.3 424.9L514.9 397.7L516.5 379.3L518.1 366.2L519.8 356.5L521.4 349.4L523 344.4L524.6 341.2L526.2 339.8L527.8 340L529.4 342L531 345.7L532.6 351.4L534.2 359.4L535.8 370.3L537.4 385L539 405.5L540.6 431.5L542.2 433.8L543.8 422.7L545.4 418.6L547 419.3L548.6 421.9L550.3 423.3L551.9 422.2L553.5 420.4L556.7 418L558.3 415.1L559.9 409.9L561.5 403.7L563.1 398.3L564.7 394.7L566.3 393.3L567.9 394.1L569.5 397.5L571.1 403.9L572.7 414.3L574.3 430.7L575.2 444.4M578.2 444.4L579.2 432.7L580.8 420.6L582.4 413.5L584 409.2L585.6 406.7L587.2 405.2L588.8 404.2L590.4 403.8L592 403.7L593.6 404.2L595.2 405.2L596.8 406.4L598.4 407.3L600 407.3L601.6 406.1L603.2 403.8L606.5 398.3L608.1 396.2L609.7 394.9L611.3 394.5L612.9 395L614.5 396.4L616.1 398.7L617.7 402L619.3 406.1L620.9 411.1L622.5 416.9L624.1 423.5L625.7 430.8L628.4 444.4M643 444.4L643.4 442.5L645 435.3L646.6 429.6L648.2 425L649.8 421.3L651.4 418.3L653 415.9L654.6 414.1L656.2 412.7L657.8 411.8L659.4 411.4L661 411.3L662.6 411.6L664.2 412.3L665.9 413.4L667.5 414.9L669.1 416.9L670.7 419.6L672.3 423.1L673.9 427.9L675.5 434.8L676.8 444.4" stroke="#3ea552"/>
<path d="M394.3 444.4L394.5 443.4L396.1 438.3L397.7 434.2L399.3 430.9L400.9 428.1L402.5 425.7L404.1 423.5L407.4 419.7L410.6 416.5L413.8 413.8L417 411.7L418.6 410.8L420.2 410.1L421.8 409.5L423.4 409.1L425 408.9L426.6 408.8L428.2 408.9L429.8 409L434.7 409.8L436.3 409.8L437.9 409.5L439.5 408.8L441.1 407.7L442.7 406.4L447.5 401.6L449.1 400.3L450.7 399.4L452.3 398.9L453.9 399L455.5 399.7L457.1 401.2L458.7 403.4L460.3 406.5L461.9 410.7L463.6 416.1L465.2 422.9L466.8 431.5L468.4 441.3L469.1 444.4M471.7 444.4L474.8 423.3L476.4 413.9L478 406.3L479.6 400L481.2 395.1L482.8 391.3L484.4 388.6L486 386.8L487.6 385.9L489.2 385.7L490.9 386.1L492.5 386.9L494.1 387.8L495.7 388.7L497.3 389.9L498.9 391.4L500.5 393.5L502.1 396.6L505.3 404.1L506.9 406.1L508.5 404.8L511.7 397.3L513.3 394.7L514.9 393.7L516.5 394.7L518.1 397.4L519.8 401.2L521.4 404.5L523 405L524.6 402.6L526.2 399.3L527.8 396.8L529.4 395.8L531 396L532.6 396.6L534.2 396.1L535.8 393.5L539 385.5L540.6 382.6L542.2 381.4L543.8 381.9L545.4 384.2L547 388L550.3 397.5L551.9 400.4L553.5 401.2L555.1 401.5L556.7 403.2L558.3 407.8L559.9 417L562.5 444.4M563.6 444.4L564.7 430.1L566.3 411.7L567.9 400.5L569.5 393.8L571.1 390.5L572.7 390L574.3 392.1L575.9 397.1L577.5 406L579.2 420.7L580.6 444.4M583 444.4L584 427.5L585.6 411.4L587.2 402.1L588.8 396.6L590.4 393.6L592 392.7L593.6 393.5L595.2 396L596.8 400.1L598.4 406L600 414.3L601.6 425.7L603.2 442.7L603.3 444.4M609.4 444.4L609.7 441.1L611.3 431.1L612.9 424.7L614.5 420.6L616.1 417.8L617.7 416L619.3 414.8L620.9 414L625.7 412.1L632.1 408.7L635.4 407.3L637 406.8L638.6 406.4L640.2 406.3L641.8 406.3L643.4 406.5L645 406.8L646.6 407.3L648.2 408L649.8 408.9L653 410.9L656.2 413.4L659.4 416.5L661 418.2L664.2 422.1L665.9 424.3L667.5 426.8L669.1 429.7L670.7 433L672.3 437.1L673.9 442.2L674.4 444.4" stroke="#9a9acb"/>
<path d="M391.4 444.4L392.9 433L394.5 426.2L396.1 421.6L397.7 418.3L399.3 415.8L400.9 414.1L402.5 412.9L404.1 412.2L405.8 411.9L407.4 412L409 412.5L410.6 413.3L412.2 414.4L413.8 415.8L415.4 417.5L420.2 423L425 428.2L426.6 430.2L428.2 432.7L429.8 436.3L431.4 441.3L432.2 444.4M437.5 444.4L439.5 428.7L441.1 417.4L442.7 408.1L444.3 400.6L445.9 394.7L447.5 390.1L449.1 386.7L450.7 384.7L452.3 383.9L453.9 384.6L455.5 386.8L457.1 391L458.7 397.5L460.3 406.6L461.9 416.8L463.6 418.4L465.2 408.2L466.8 397L468.4 388.6L470 382.9L471.6 379.6L473.2 378.4L474.8 379.5L476.4 382.9L478 389.2L479.6 398.8L481.2 412L482.8 420.2L484.4 410.8L486 398.4L487.6 389.7L489.2 384.4L490.9 381.9L492.5 381.8L494.1 383.8L495.7 387.8L497.3 394L498.9 402.3L500.5 412.6L503.7 436.3L505.2 444.4M508.2 444.4L508.5 443.6L511.7 431.4L513.3 427.7L514.9 427.1L516.5 430.5L518.1 439.2L518.6 444.4M525.8 444.4L527.8 432.6L529.4 417.3L531 399.8L532.6 384.4L534.2 371.7L535.8 361.5L537.4 353.6L539 347.5L540.6 343.1L542.2 340.3L543.8 339L545.4 339.2L547 340.9L548.6 344.1L550.3 348.9L551.9 355.2L555.1 369.9L556.7 374.7L558.3 376L559.9 375.5L561.5 375.3L563.1 376.7L564.7 379.8L566.3 384.2L567.9 388L569.5 389.2L571.1 387.1L572.7 384L574.3 381.8L575.9 381.4L577.5 383.2L579.2 387.4L580.8 394.1L584 412.6L585.6 416.8L587.2 414L588.8 410L590.4 408.5L592 410.4L593.6 416.2L595.2 425.4L596.8 430.9L598.4 421.7L600 408.3L601.6 397.8L603.2 390.4L604.8 385.5L606.5 382.6L608.1 381.4L609.7 381.7L611.3 383.2L612.9 385.9L616.1 393L617.7 396L619.3 397.4L620.9 396.8L622.5 394.8L625.7 389.9L627.3 388.1L628.9 386.9L630.5 386.4L632.1 386.4L633.7 386.9L635.4 387.7L640.2 391L641.8 391.8L643.4 392.3L645 392.6L646.6 392.6L653 391.6L654.6 391.6L656.2 391.7L657.8 391.9L659.4 392.5L661 393.2L662.6 394.2L664.2 395.5L665.9 397.1L667.5 399.1L669.1 401.5L670.7 404.5L672.3 408.3L673.9 413.2L675.5 420.3L677.1 432.5L677.4 444.4" stroke="#f5d71e"/>
<path d="M394.2 444.4L394.5 442.9L396.1 437.5L397.7 433.2L399.3 429.5L400.9 426.2L402.5 423.3L405.8 418L409 413.4L412.2 409.3L415.4 405.6L418.6 402.4L421.8 399.8L423.4 398.6L426.6 396.7L429.8 395.4L433.1 394.5L434.7 394.3L436.3 394.2L437.9 394.2L439.5 394.5L441.1 395L442.7 395.9L444.3 397.1L445.9 398.7L447.5 400.7L449.1 403.2L452.3 408.8L453.9 411.3L455.5 413L457.1 413.6L458.7 413.3L460.3 412.7L461.9 412.5L463.6 413.2L465.2 415.5L466.8 420L468.4 427.7L470 441.2L470.2 444.4M474.8 444.4L476.4 424.4L478 411.9L479.6 403.1L481.2 396.5L482.8 391.5L484.4 387.7L486 384.9L487.6 383.1L489.2 382.2L490.9 382.3L492.5 383.4L494.1 385.5L495.7 388.5L498.9 396.1L503.7 406.8L505.3 412.2L506.9 421.3L508.5 436.3L509.7 444.4M510.4 444.4L513.3 412.5L514.9 401.9L516.5 395.8L518.1 393.3L519.8 393.5L523 397.9L524.6 397L526.2 392.4L527.8 386.9L529.4 382.8L531 381.1L532.6 382.1L534.2 386.3L535.8 394.2L537.4 407.1L539 427.8L539.8 444.4M544.5 444.4L545.4 432.3L547 407.5L548.6 387.4L550.3 372.2L551.9 360.8L553.5 352.3L555.1 346.3L556.7 342.3L558.3 340.3L559.9 340L561.5 341.5L563.1 344.8L564.7 350L566.3 357.5L567.9 367.6L569.5 381.2L571.1 399.5L572.7 421.3L574.3 427.5L575.9 419.9L577.5 417.2L579.2 420.4L580.8 428.4L582.4 434.6L584 428.3L585.6 417.6L587.2 409.9L588.8 405.7L590.4 404.9L592 407.3L593.6 413L595.2 422.8L596.8 438.3L597.3 444.4M601.3 444.4L601.6 440.7L603.2 430.6L604.8 425.6L606.5 424.1L609.7 424.8L611.3 422.5L612.9 416.8L616.1 402.3L617.7 396.1L619.3 391.1L620.9 387.2L622.5 384.3L624.1 382.3L625.7 381L627.3 380.5L628.9 380.5L630.5 381.1L632.1 382.2L633.7 383.7L635.4 385.5L637 387.7L638.6 390.2L640.2 392.9L643.4 398.9L651.4 415L656.2 424.3L667.4 444.4" stroke="#f25aa3"/>
<path d="M394.8 444.4L396.1 440.4L397.7 436.7L399.3 433.8L400.9 431.4L402.5 429.5L404.1 428L405.8 426.7L407.4 425.7L409 424.8L410.6 424.2L412.2 423.7L418.6 422.2L420.2 421.6L421.8 420.8L423.4 419.7L425 418.2L426.6 416.3L428.2 414.1L429.8 411.7L434.7 403.8L436.3 401.4L437.9 399.1L439.5 397.2L441.1 395.5L442.7 394.1L444.3 393L445.9 392.2L447.5 391.7L452.3 390.5L453.9 389.8L455.5 389L457.1 387.8L461.9 383.7L463.6 382.6L465.2 381.7L466.8 381.3L468.4 381.3L470 381.6L471.6 382.3L476.4 384.9L479.6 386.6L481.2 387.5L482.8 388.9L484.4 390.8L486 393.7L487.6 397.6L489.2 403L490.9 410.3L492.5 420.2L495.3 444.4M496.3 444.4L497.3 439.8L498.9 423.2L500.5 410.3L502.1 401.3L503.7 395.2L505.3 391.7L506.9 390.6L508.5 392.1L510.1 396.4L511.7 403.5L513.3 411.6L514.9 413.1L516.5 405.2L518.1 396.4L519.8 390.5L521.4 388.2L523 389.5L524.6 395.2L526.2 406.6L527.8 424.2L529.4 423.2L531 404.1L532.6 391.1L534.2 383.8L535.8 380.6L537.4 380.8L539 384L540.6 389.3L542.2 393.8L543.8 393.5L547 383.6L548.6 380.6L550.3 380.5L551.9 383.6L553.5 390.3L555.1 401.5L556.7 419.5L558 444.4M564.2 444.4L564.7 428L566.3 399.8L567.9 380.8L569.5 367.1L571.1 356.8L572.7 349.2L574.3 343.8L575.9 340.1L577.5 338.1L579.2 337.6L580.8 338.5L582.4 340.9L584 344.8L585.6 350.4L587.2 357.9L588.8 367.8L590.4 380.7L592 396.9L593.6 410.3L595.2 406.7L596.8 397.1L598.4 390.3L600 386.6L601.6 385L603.2 385.1L604.8 386.2L606.5 388.1L608.1 390.5L609.7 393.1L612.9 398.8L614.5 402.2L616.1 406.3L617.7 411L620.9 421L622.5 423.6L624.1 422.1L625.7 417.4L628.9 406.2L630.5 401.5L632.1 397.6L633.7 394.6L635.4 392.3L637 390.6L638.6 389.4L640.2 388.8L641.8 388.5L643.4 388.6L645 389L646.6 389.6L648.2 390.6L649.8 391.7L653 394.4L656.2 397.7L659.4 401.4L662.6 405.7L665.9 410.6L667.5 413.3L669.1 416.4L670.7 420L672.3 424.2L673.9 429.5L675.5 436.8L676.5 444.4" stroke="#ff8c3c"/>
<path d="M421.7 444.4L425 433.1L426.6 428L428.2 423.3L429.8 419.1L431.4 415.3L433.1 412L434.7 409.2L436.3 406.9L437.9 405.1L439.5 403.8L441.1 403.1L442.7 403L444.3 403.4L445.9 404.5L447.5 406.1L449.1 408.5L450.7 411.6L452.3 415.5L453.9 420.3L455.5 426.2L457.1 433.6L458.9 444.4M467.2 444.4L468.4 434.4L470 424.5L471.6 416.7L473.2 410.4L474.8 404.9L476.4 400.1L478 395.7L479.6 391.8L481.2 388.2L482.8 385.2L484.4 382.9L486 381.4L487.6 381L489.2 381.7L490.9 383.9L492.5 387.7L494.1 393.6L495.7 402L497.3 414L498.9 431.6L499.6 444.4M511.3 444.4L511.7 438.7L513.3 424.8L514.9 416.2L516.5 411.3L518.1 409.2L519.8 408.9L523 410.6L524.6 411.2L526.2 412.1L527.8 414.8L529.4 421.4L531 436.2L531.3 444.4M534.3 444.4L535.8 416.3L537.4 400L539 389.8L540.6 383.7L542.2 380.6L543.8 380.3L545.4 382.9L547 388.5L548.6 398L550.3 411.4L551.9 420.8L553.5 412.4L555.1 400.8L556.7 393.3L558.3 390L559.9 390.3L561.5 394.3L563.1 402.6L564.7 414.3L566.3 417.8L569.5 392.1L571.1 383.2L572.7 377.9L574.3 375.7L575.9 376.6L577.5 380.9L579.2 389.8L580.8 405.4L582.4 417.1L584 396.6L585.6 377.6L587.2 364.7L588.8 355.5L590.4 348.9L592 344.2L593.6 341L595.2 339.1L596.8 338.4L598.4 338.6L600 339.8L601.6 341.9L603.2 344.9L604.8 348.7L606.5 353.4L608.1 358.8L609.7 365L616.1 393.5L617.7 399.1L619.3 402.9L620.9 405.1L622.5 405.9L624.1 405.9L625.7 405.2L627.3 403.9L628.9 402.1L633.7 395.4L635.4 393.3L637 391.6L638.6 390.1L640.2 389L641.8 388.2L643.4 387.8L645 387.6L646.6 387.8L648.2 388.2L649.8 388.9L651.4 389.8L653 390.8L654.6 392.1L657.8 395.2L661 398.9L662.6 401L665.9 405.8L667.5 408.5L669.1 411.6L670.7 415.2L672.3 419.4L673.9 424.7L675.5 432L677.1 444.4" stroke="#c997dd"/>
<path d="M394.2 444.4L394.5 442.9L396.1 436.9L397.7 431.8L399.3 427.3L402.5 419.2L405.8 411.9L409 405.5L412.2 399.9L413.8 397.5L415.4 395.3L417 393.5L418.6 392L420.2 390.9L421.8 390.1L423.4 389.7L425 389.8L426.6 390.3L428.2 391.2L429.8 392.6L434.7 397.5L436.3 398.6L437.9 398.8L439.5 397.8L441.1 396L444.3 391.4L445.9 389.3L447.5 387.9L449.1 387.1L450.7 387.3L452.3 388.4L453.9 390.7L455.5 394.2L457.1 399.2L458.7 405.7L460.3 412.8L461.9 417.6L463.6 416L465.2 409.1L466.8 401.5L468.4 395.2L470 390.7L471.6 387.8L473.2 386.7L474.8 387.3L476.4 389.9L478 394.9L479.6 403.2L481.2 416.6L483.1 444.4M485.5 444.4L486 433.7L487.6 416.2L489.2 407.1L490.9 402.8L492.5 401.7L495.7 403.7L497.3 402.2L498.9 397.3L500.5 391.1L502.1 385.7L503.7 382.1L505.3 380.6L506.9 381.6L508.5 385.1L510.1 392L511.7 403.4L513.3 423.1L514.2 444.4M516.3 444.4L518.1 418.3L519.8 407.1L521.4 401.6L523 399.6L524.6 400L526.2 402.4L527.8 406.8L529.4 413.5L532.6 431.6L534.2 427.5L535.8 413.9L537.4 401.9L539 393.2L540.6 387.6L542.2 384.5L543.8 383.7L545.4 385L547 388.5L548.6 394.1L550.3 402.1L551.9 413L553.5 428.2L554.6 444.4M558.6 444.4L559.9 427.8L561.5 415L563.1 406.5L564.7 400.6L566.3 396.7L567.9 393.9L569.5 391.6L572.7 387.3L574.3 385.6L575.9 385L577.5 386L579.2 389.7L580.8 397.5L582.4 413L583.6 444.4M585 444.4L585.6 438.4L587.2 403L588.8 386.1L590.4 375.8L592 369.4L593.6 365.9L595.2 364.8L596.8 366L598.4 369.6L600 375.5L601.6 382.9L603.2 386.9L604.8 381.6L608.1 361.7L609.7 354L611.3 348.2L612.9 344L614.5 341L616.1 339.1L617.7 338.2L619.3 338.2L620.9 339L622.5 340.6L624.1 343L625.7 346.1L627.3 350L628.9 354.6L630.5 360.1L632.1 366.5L633.7 373.9L635.4 382.2L638.6 400L640.2 406L641.8 407.1L643.4 404.3L645 400.4L646.6 396.9L648.2 394.2L649.8 392.3L651.4 391.2L653 390.7L654.6 390.8L656.2 391.3L657.8 392.2L659.4 393.5L661 395.1L662.6 397L664.2 399.2L665.9 401.6L667.5 404.4L669.1 407.6L670.7 411.2L672.3 415.5L673.9 420.9L675.5 428.4L677.1 440.8L677.2 444.4" stroke="#1e32c8"/>
</g>
<g stroke="#3a3a3a" stroke-width="0.5" fill="none">
<path d="M389.70 440.40v-4.3M389.70 261.10v4.3"/>
<path d="M401.74 440.40v-2.7M401.74 261.10v2.7"/>
<path d="M413.78 440.40v-2.7M413.78 261.10v2.7"/>
<path d="M425.82 440.40v-2.7M425.82 261.10v2.7"/>
<path d="M437.87 440.40v-4.3M437.87 261.10v4.3"/>
<path d="M449.91 440.40v-2.7M449.91 261.10v2.7"/>
<path d="M461.95 440.40v-2.7M461.95 261.10v2.7"/>
<path d="M473.99 440.40v-2.7M473.99 261.10v2.7"/>
<path d="M486.03 440.40v-4.3M486.03 261.10v4.3"/>
<path d="M498.07 440.40v-2.7M498.07 261.10v2.7"/>
<path d="M510.12 440.40v-2.7M510.12 261.10v2.7"/>
<path d="M522.16 440.40v-2.7M522.16 261.10v2.7"/>
<path d="M534.20 440.40v-4.3M534.20 261.10v4.3"/>
<path d="M546.24 440.40v-2.7M546.24 261.10v2.7"/>
<path d="M558.28 440.40v-2.7M558.28 261.10v2.7"/>
<path d="M570.33 440.40v-2.7M570.33 261.10v2.7"/>
<path d="M582.37 440.40v-4.3M582.37 261.10v4.3"/>
<path d="M594.41 440.40v-2.7M594.41 261.10v2.7"/>
<path d="M606.45 440.40v-2.7M606.45 261.10v2.7"/>
<path d="M618.49 440.40v-2.7M618.49 261.10v2.7"/>
<path d="M630.53 440.40v-4.3M630.53 261.10v4.3"/>
<path d="M642.58 440.40v-2.7M642.58 261.10v2.7"/>
<path d="M654.62 440.40v-2.7M654.62 261.10v2.7"/>
<path d="M666.66 440.40v-2.7M666.66 261.10v2.7"/>
<path d="M678.70 440.40v-4.3M678.70 261.10v4.3"/>
<path d="M389.70 440.40h2.7M678.70 440.40h-2.7"/>
<path d="M389.70 432.25h4.3M678.70 432.25h-4.3"/>
<path d="M389.70 424.10h2.7M678.70 424.10h-2.7"/>
<path d="M389.70 415.95h2.7M678.70 415.95h-2.7"/>
<path d="M389.70 407.80h2.7M678.70 407.80h-2.7"/>
<path d="M389.70 399.65h2.7M678.70 399.65h-2.7"/>
<path d="M389.70 391.50h4.3M678.70 391.50h-4.3"/>
<path d="M389.70 383.35h2.7M678.70 383.35h-2.7"/>
<path d="M389.70 375.20h2.7M678.70 375.20h-2.7"/>
<path d="M389.70 367.05h2.7M678.70 367.05h-2.7"/>
<path d="M389.70 358.90h2.7M678.70 358.90h-2.7"/>
<path d="M389.70 350.75h4.3M678.70 350.75h-4.3"/>
<path d="M389.70 342.60h2.7M678.70 342.60h-2.7"/>
<path d="M389.70 334.45h2.7M678.70 334.45h-2.7"/>
<path d="M389.70 326.30h2.7M678.70 326.30h-2.7"/>
<path d="M389.70 318.15h2.7M678.70 318.15h-2.7"/>
<path d="M389.70 310.00h4.3M678.70 310.00h-4.3"/>
<path d="M389.70 301.85h2.7M678.70 301.85h-2.7"/>
<path d="M389.70 293.70h2.7M678.70 293.70h-2.7"/>
<path d="M389.70 285.55h2.7M678.70 285.55h-2.7"/>
<path d="M389.70 277.40h2.7M678.70 277.40h-2.7"/>
<path d="M389.70 269.25h4.3M678.70 269.25h-4.3"/>
<path d="M389.70 261.10h2.7M678.70 261.10h-2.7"/>
</g>
<rect x="389.70" y="261.10" width="289.00" height="179.30" fill="none" stroke="#1c1c1c" stroke-width="1.2"/>
<text x="389.70" y="453.00" text-anchor="middle" font-size="12.0">−<tspan dx="2.0">90</tspan></text>
<text x="437.87" y="453.00" text-anchor="middle" font-size="12.0">−<tspan dx="2.0">60</tspan></text>
<text x="486.03" y="453.00" text-anchor="middle" font-size="12.0">−<tspan dx="2.0">30</tspan></text>
<text x="534.20" y="453.00" text-anchor="middle" font-size="12.0">0</text>
<text x="582.37" y="453.00" text-anchor="middle" font-size="12.0">30</text>
<text x="630.53" y="453.00" text-anchor="middle" font-size="12.0">60</text>
<text x="678.70" y="453.00" text-anchor="middle" font-size="12.0">90</text>
<text x="386.00" y="273.75" text-anchor="end" font-size="12.0">0</text>
<text x="386.00" y="314.50" text-anchor="end" font-size="12.0">−<tspan dx="2.0">10</tspan></text>
<text x="386.00" y="355.25" text-anchor="end" font-size="12.0">−<tspan dx="2.0">20</tspan></text>
<text x="386.00" y="396.00" text-anchor="end" font-size="12.0">−<tspan dx="2.0">30</tspan></text>
<text x="386.00" y="436.75" text-anchor="end" font-size="12.0">−<tspan dx="2.0">40</tspan></text>
<text x="359.20" y="351.25" text-anchor="middle" font-size="12.0" transform="rotate(-90 359.20 351.25)">Normalized Amplitude (dB)</text>
<text x="523.70" y="468.00" font-size="12.0"><tspan font-style="italic" font-size="13.6">θ</tspan><tspan dx="0.7">(</tspan><tspan font-size="8.5" dx="0.5" dy="-1">°</tspan><tspan dx="0.6" dy="1">)</tspan></text>
<text x="595.30" y="311.80" text-anchor="start" font-size="12.0">Harmonics</text>
<g>
<rect x="38.80" y="498.40" width="235.25" height="11.50" fill="#875f57"/>
<rect x="273.55" y="498.40" width="8.32" height="11.50" fill="#33309a"/>
<rect x="281.38" y="498.40" width="7.82" height="11.50" fill="#875f57"/>
<rect x="38.80" y="509.40" width="219.60" height="11.50" fill="#ffff92"/>
<rect x="257.90" y="509.40" width="8.32" height="11.50" fill="#875f57"/>
<rect x="265.72" y="509.40" width="23.47" height="11.50" fill="#ffff92"/>
<rect x="38.80" y="520.40" width="203.95" height="11.50" fill="#00cc66"/>
<rect x="242.25" y="520.40" width="8.32" height="11.50" fill="#ffff92"/>
<rect x="250.07" y="520.40" width="39.12" height="11.50" fill="#00cc66"/>
<rect x="38.80" y="531.40" width="188.30" height="11.50" fill="#33309a"/>
<rect x="226.60" y="531.40" width="8.32" height="11.50" fill="#00cc66"/>
<rect x="234.42" y="531.40" width="54.77" height="11.50" fill="#33309a"/>
<rect x="38.80" y="542.40" width="172.65" height="11.50" fill="#875f57"/>
<rect x="210.95" y="542.40" width="8.32" height="11.50" fill="#33309a"/>
<rect x="218.77" y="542.40" width="70.42" height="11.50" fill="#875f57"/>
<rect x="38.80" y="553.40" width="157.00" height="11.50" fill="#ffff92"/>
<rect x="195.30" y="553.40" width="8.32" height="11.50" fill="#875f57"/>
<rect x="203.12" y="553.40" width="86.07" height="11.50" fill="#ffff92"/>
<rect x="38.80" y="564.40" width="141.35" height="11.50" fill="#00cc66"/>
<rect x="179.65" y="564.40" width="8.32" height="11.50" fill="#ffff92"/>
<rect x="187.47" y="564.40" width="101.72" height="11.50" fill="#00cc66"/>
<rect x="38.80" y="575.40" width="125.70" height="11.50" fill="#33309a"/>
<rect x="164.00" y="575.40" width="8.32" height="11.50" fill="#00cc66"/>
<rect x="171.82" y="575.40" width="117.37" height="11.50" fill="#33309a"/>
<rect x="38.80" y="586.40" width="110.05" height="11.50" fill="#875f57"/>
<rect x="148.35" y="586.40" width="8.32" height="11.50" fill="#33309a"/>
<rect x="156.17" y="586.40" width="133.02" height="11.50" fill="#875f57"/>
<rect x="38.80" y="597.40" width="94.40" height="11.50" fill="#ffff92"/>
<rect x="132.70" y="597.40" width="8.32" height="11.50" fill="#875f57"/>
<rect x="140.52" y="597.40" width="148.67" height="11.50" fill="#ffff92"/>
<rect x="38.80" y="608.40" width="78.75" height="11.50" fill="#00cc66"/>
<rect x="117.05" y="608.40" width="8.32" height="11.50" fill="#ffff92"/>
<rect x="124.87" y="608.40" width="164.32" height="11.50" fill="#00cc66"/>
<rect x="38.80" y="619.40" width="63.10" height="11.50" fill="#33309a"/>
<rect x="101.40" y="619.40" width="8.32" height="11.50" fill="#00cc66"/>
<rect x="109.22" y="619.40" width="179.97" height="11.50" fill="#33309a"/>
<rect x="38.80" y="630.40" width="47.45" height="11.50" fill="#875f57"/>
<rect x="85.75" y="630.40" width="8.32" height="11.50" fill="#33309a"/>
<rect x="93.57" y="630.40" width="195.62" height="11.50" fill="#875f57"/>
<rect x="38.80" y="641.40" width="31.80" height="11.50" fill="#ffff92"/>
<rect x="70.10" y="641.40" width="8.32" height="11.50" fill="#875f57"/>
<rect x="77.92" y="641.40" width="211.27" height="11.50" fill="#ffff92"/>
<rect x="38.80" y="652.40" width="16.15" height="11.50" fill="#00cc66"/>
<rect x="54.45" y="652.40" width="8.32" height="11.50" fill="#ffff92"/>
<rect x="62.27" y="652.40" width="226.92" height="11.50" fill="#00cc66"/>
<rect x="38.80" y="663.40" width="8.32" height="11.00" fill="#00cc66"/>
<rect x="46.62" y="663.40" width="242.57" height="11.00" fill="#33309a"/>
</g>
<rect x="38.80" y="498.40" width="250.40" height="176.00" fill="none" stroke="#1a1a1a" stroke-width="0.9"/>
<line x1="33.60" y1="658.29" x2="38.80" y2="658.29" stroke="#1a1a1a" stroke-width="1"/>
<text x="29.90" y="662.38" text-anchor="end" font-size="12.0">2</text>
<line x1="33.60" y1="636.24" x2="38.80" y2="636.24" stroke="#1a1a1a" stroke-width="1"/>
<text x="29.90" y="640.26" text-anchor="end" font-size="12.0">4</text>
<line x1="33.60" y1="614.18" x2="38.80" y2="614.18" stroke="#1a1a1a" stroke-width="1"/>
<text x="29.90" y="618.13" text-anchor="end" font-size="12.0">6</text>
<line x1="33.60" y1="592.12" x2="38.80" y2="592.12" stroke="#1a1a1a" stroke-width="1"/>
<text x="29.90" y="596.00" text-anchor="end" font-size="12.0">8</text>
<line x1="33.60" y1="570.07" x2="38.80" y2="570.07" stroke="#1a1a1a" stroke-width="1"/>
<text x="29.90" y="573.88" text-anchor="end" font-size="12.0">10</text>
<line x1="33.60" y1="548.01" x2="38.80" y2="548.01" stroke="#1a1a1a" stroke-width="1"/>
<text x="29.90" y="551.75" text-anchor="end" font-size="12.0">12</text>
<line x1="33.60" y1="525.96" x2="38.80" y2="525.96" stroke="#1a1a1a" stroke-width="1"/>
<text x="29.90" y="529.63" text-anchor="end" font-size="12.0">14</text>
<line x1="33.60" y1="503.90" x2="38.80" y2="503.90" stroke="#1a1a1a" stroke-width="1"/>
<text x="29.90" y="507.50" text-anchor="end" font-size="12.0">16</text>
<line x1="68.53" y1="674.40" x2="68.53" y2="679.40" stroke="#1a1a1a" stroke-width="1"/>
<text x="68.53" y="691.80" text-anchor="middle" font-size="12.0">4</text>
<line x1="99.83" y1="674.40" x2="99.83" y2="679.40" stroke="#1a1a1a" stroke-width="1"/>
<text x="99.83" y="691.80" text-anchor="middle" font-size="12.0">8</text>
<line x1="131.13" y1="674.40" x2="131.13" y2="679.40" stroke="#1a1a1a" stroke-width="1"/>
<text x="131.13" y="691.80" text-anchor="middle" font-size="12.0">12</text>
<line x1="162.44" y1="674.40" x2="162.44" y2="679.40" stroke="#1a1a1a" stroke-width="1"/>
<text x="162.44" y="691.80" text-anchor="middle" font-size="12.0">16</text>
<line x1="193.74" y1="674.40" x2="193.74" y2="679.40" stroke="#1a1a1a" stroke-width="1"/>
<text x="193.74" y="691.80" text-anchor="middle" font-size="12.0">20</text>
<line x1="225.03" y1="674.40" x2="225.03" y2="679.40" stroke="#1a1a1a" stroke-width="1"/>
<text x="225.03" y="691.80" text-anchor="middle" font-size="12.0">24</text>
<line x1="256.33" y1="674.40" x2="256.33" y2="679.40" stroke="#1a1a1a" stroke-width="1"/>
<text x="256.33" y="691.80" text-anchor="middle" font-size="12.0">28</text>
<line x1="287.63" y1="674.40" x2="287.63" y2="679.40" stroke="#1a1a1a" stroke-width="1"/>
<text x="287.63" y="691.80" text-anchor="middle" font-size="12.0">32</text>
<text x="10.30" y="586.70" text-anchor="middle" font-size="12.0" transform="rotate(-90 10.30 586.70)">Coding elements</text>
<text x="167.00" y="492.20" text-anchor="middle" font-size="12.0">Space-time-coding Matrix</text>
<text x="163.40" y="705.80" text-anchor="middle" font-size="12.0">Time-coding sequences</text>
<clipPath id="cf"><rect x="389.70" y="499.40" width="289.00" height="179.70"/></clipPath>
<g clip-path="url(#cf)" fill="none" stroke-width="1.9" stroke-linejoin="round" stroke-linecap="round">
<path d="M391 683.1L391.3 671L392.9 658.4L394.5 650.7L396.1 645L397.7 640.3L399.3 636.2L400.9 632.6L402.5 629.3L404.1 626.3L405.8 623.5L407.4 621.1L409 619L410.6 617.3L412.2 616L413.8 615.1L415.4 614.9L417 615.2L418.6 616.5L420.2 618.8L421.8 622.5L423.4 628.3L425 637.4L426.6 653.1L427.9 683.1M429.9 683.1L431.4 646.3L433.1 627.3L434.7 614.8L436.3 605.9L437.9 599.4L439.5 594.8L441.1 592L442.7 590.9L444.3 591.8L445.9 595L447.5 601.6L449.1 614L450.7 641.5L452.3 674.3L453.9 617.9L455.5 596.5L457.1 583.7L458.7 575.5L460.3 570.5L461.9 568.5L463.6 569.7L465.2 575.1L466.8 587.9L468.4 624.5L470 613.5L471.6 573.4L473.2 553.2L474.8 539.7L476.4 529.9L478 522.7L479.6 517.4L481.2 513.9L482.8 511.9L484.4 511.5L486 512.6L487.6 515.4L489.2 520.2L490.9 527.3L492.5 537.6L494.1 552.9L495.7 579L497.1 683.1M497.5 683.1L498.9 590.1L500.5 570.9L502.1 564.2L503.7 564.1L505.3 569.5L506.9 581.7L508.5 607L509.8 683.1M510.4 683.1L511.7 606.2L513.3 587.9L514.9 581.2L516.5 581.3L518.1 587.6L519.8 602.6L521.4 639.4L523 644.8L524.6 607.7L526.2 594.8L527.8 590.9L529.4 593.4L531 603.1L532.6 625.5L533.5 683.1M535 683.1L535.8 627.3L537.4 606.9L539 599L540.6 598.4L542.2 604.2L543.8 619.1L545.4 658.2L547 654.8L548.6 620L550.3 607.2L551.9 603L553.5 605.1L555.1 614.1L556.7 634.8L557.5 683.1M559.1 683.1L559.9 640.7L561.5 618.1L563.1 608.8L564.7 606.5L566.3 609.9L567.9 620.2L569.5 643.3L570.2 683.1M572 683.1L572.7 641.3L574.3 620.6L575.9 611.6L577.5 608.9L579.2 611.3L580.8 619.4L582.4 636.6L583.9 683.1M584.1 683.1L585.6 661.2L587.2 630.7L588.8 617.7L590.4 611.8L592 610.7L593.6 613.7L595.2 621.6L596.8 637L598.4 672.9L600 680.1L601.6 640.2L603.2 624.3L604.8 616.1L606.5 612.4L608.1 612L609.7 614.8L611.3 621L612.9 631.8L614.5 651.3L615.4 683.1M617.2 683.1L617.7 671.6L619.3 642.5L620.9 628.6L622.5 620.6L624.1 616.1L625.7 614L627.3 613.8L628.9 615.5L630.5 619L632.1 624.4L633.7 632.3L635.4 643.8L637 661.9L637.8 683.1M641.1 683.1L641.8 666.2L643.4 649.7L645 639.9L646.6 633.4L648.2 629L649.8 626.1L651.4 624.3L653 623.4L654.6 623.2L656.2 623.5L657.8 624.4L659.4 625.7L661 627.4L662.6 629.5L664.2 631.9L665.9 634.6L667.5 637.7L669.1 641.1L670.7 645L672.3 649.6L673.9 655.2L675.5 662.8L677.1 675.3L677.3 683.1" stroke="#9a9fca"/>
<path d="M563.1 683.1L564.7 677.3L566.3 677.4L567.7 683.1M573.3 683.1L574.3 666.2L575.9 650.8L577.5 640.5L579.2 633.4L580.8 628.7L582.4 625.9L584 624.8L585.6 625.2L587.2 627.2L588.8 630.7L590.4 635.9L592 643.2L593.6 653L595.2 666.5L596.5 683.1M604.8 683.1L604.8 683L606.5 681.8L607.5 683.1" stroke="#2af0f0"/>
<path d="M576 683.1L577.5 677.8L579.2 677.3L580.8 682.3L580.9 683.1M586.9 683.1L587.2 677.8L588.8 659.6L590.4 647.7L592 639.4L593.6 633.5L595.2 629.5L596.8 627L598.4 626L600 626.2L601.6 627.6L603.2 630.2L604.8 634L606.5 639.2L608.1 645.9L609.7 654.5L611.3 665.7L612.9 680.9L613 683.1" stroke="#1428f0"/>
<path d="M590.1 683.1L590.4 681.7L592 678.1L593.6 678.6L595 683.1M602.1 683.1L603.2 669.1L604.8 656.3L606.5 647.2L608.1 640.5L609.7 635.7L611.3 632.3L612.9 630L614.5 628.8L616.1 628.5L617.7 629.1L619.3 630.5L620.9 632.6L622.5 635.6L624.1 639.3L625.7 643.8L627.3 649.2L628.9 655.6L630.5 663.1L632.1 672.2L633.7 683.1" stroke="#9619f0"/>
<path d="M606.2 683.1L606.5 682.3L608.1 680L609.7 680.7L610.6 683.1M620.3 683.1L620.9 676.3L622.5 664.8L624.1 656.5L625.7 650.2L627.3 645.3L628.9 641.7L630.5 638.9L632.1 636.9L633.7 635.6L635.4 634.9L637 634.7L638.6 635L640.2 635.6L641.8 636.7L643.4 638.1L645 639.8L646.6 641.7L648.2 644L649.8 646.4L653 652L654.6 655.1L657.8 661.7L662.6 672.5L666.9 683.1" stroke="#1f7a7a"/>
<path d="M393.2 683.1L394.5 677.6L396.1 672.8L397.7 669.3L399.3 666.7L400.9 664.6L402.5 663.1L404.1 662.1L405.8 661.4L407.4 661.2L409 661.4L410.6 662L412.2 663.1L413.8 664.6L415.4 666.8L417 669.7L418.6 673.4L420.2 678.2L421.5 683.1M646.9 683.1L648.2 678.2L649.8 673.4L651.4 669.7L653 666.8L654.6 664.6L656.2 663.1L657.8 662L659.4 661.4L661 661.2L662.6 661.4L664.2 662.1L665.9 663.1L667.5 664.6L669.1 666.7L670.7 669.3L672.3 672.8L673.9 677.6L675.2 683.1" stroke="#f2984d"/>
<path d="M401.1 683.1L405.8 671.6L410.6 660.7L413.8 654.1L415.4 651.1L418.6 645.5L420.2 643.1L421.8 640.8L423.4 638.8L425 637.2L426.6 635.8L428.2 634.7L429.8 634.1L431.4 633.8L433.1 634L434.7 634.7L436.3 636L437.9 638L439.5 640.7L441.1 644.4L442.7 649.2L444.3 655.6L445.9 663.9L447.5 675.4L448.2 683.1M457.4 683.1L458.7 679.8L460.3 679.1L461.9 681.4L462.4 683.1" stroke="#8c2a2a"/>
<path d="M434.5 683.1L436.3 670.4L437.9 661.3L439.5 653.7L441.1 647.3L442.7 641.9L444.3 637.4L445.9 633.7L447.5 630.8L449.1 628.6L450.7 627.3L452.3 626.7L453.9 627L455.5 628.2L457.1 630.4L458.7 633.8L460.3 638.7L461.9 645.3L463.6 654.4L465.2 667.3L466.4 683.1M473 683.1L473.2 682L474.8 676.8L476.4 676.3L478 679.8L478.7 683.1" stroke="#5a3e5c"/>
<path d="M442.4 683.1L442.7 682.8L444.3 682.8L444.5 683.1M455.2 683.1L455.5 678.1L457.1 662.9L458.7 651.7L460.3 643.1L461.9 636.4L463.6 631.2L465.2 627.4L466.8 624.8L468.4 623.4L470 623.2L471.6 624.2L473.2 626.7L474.8 630.7L476.4 636.6L478 644.9L479.6 656.8L481.2 675L481.6 683.1M487.2 683.1L487.6 679.5L489.2 674.5L490.9 675L492.5 680.4L492.8 683.1" stroke="#3ea552"/>
<path d="M474.7 683.1L474.8 682.5L476.4 677.1L478 675.6L479.6 678.6L480.3 683.1M486 683.1L487.6 660L489.2 645.7L490.9 635.7L492.5 628.6L494.1 623.7L495.7 620.8L497.3 619.7L498.9 620.4L500.5 623L502.1 627.7L503.7 634.9L505.3 645.6L506.9 661.8L508.1 683.1M512.8 683.1L513.3 677.7L514.9 672.5L516.5 674L518.1 681.6L518.3 683.1" stroke="#f5d71e"/>
<path d="M488.7 683.1L489.2 679.8L490.9 674.8L492.5 674.7L494.1 680.6L494.3 683.1M499.4 683.1L500.5 663.2L502.1 646.8L503.7 635.7L505.3 628L506.9 622.9L508.5 620L510.1 619.1L511.7 620.1L513.3 623.2L514.9 628.7L516.5 637.1L518.1 649.7L519.8 669.4L520.3 683.1M524.8 683.1L526.2 674.2L527.8 672.4L529.4 676.8L530.3 683.1" stroke="#f25aa3"/>
<path d="M501.7 683.1L502.1 680.2L503.7 674.3L505.3 673.9L506.9 680.1L507.2 683.1M511.8 683.1L513.3 658.7L514.9 643.2L516.5 632.8L518.1 625.8L519.8 621.4L521.4 619.2L523 619.1L524.6 621.1L526.2 625.4L527.8 632.3L529.4 642.7L531 658.5L532.4 683.1M536.9 683.1L537.4 677.8L539 672.6L540.6 674.3L542.2 682.3L542.3 683.1" stroke="#ff8c3c"/>
<path d="M514.2 683.1L514.9 677.9L516.5 673.4L518.1 674.8L519.5 683.1M524.1 683.1L524.6 671.4L526.2 650.9L527.8 637.9L529.4 629.1L531 623.4L532.6 620.2L534.2 619.1L535.8 620.2L537.4 623.4L539 629.1L540.6 637.9L542.2 650.9L543.8 671.4L544.3 683.1M548.9 683.1L550.3 674.8L551.9 673.4L553.5 677.9L554.2 683.1" stroke="#c997dd"/>
<path d="M526.2 683.1L527.8 675.2L529.4 673.5L531 678.7L531.4 683.1M536 683.1L537.4 659.4L539 643.6L540.6 633.2L542.2 626.3L543.8 622L545.4 620L547 620.1L548.6 622.3L550.3 626.7L551.9 633.8L553.5 644.1L555.1 659.7L556.5 683.1M561.3 683.1L561.5 681L563.1 674.8L564.7 675.2L566.3 681.2L566.6 683.1" stroke="#1e32b4"/>
<path d="M538.4 683.1L539 678.6L540.6 674.2L542.2 676L543.3 683.1M548.2 683.1L548.6 671.3L550.3 651.5L551.9 639L553.5 630.6L555.1 625.1L556.7 622L558.3 620.9L559.9 621.8L561.5 624.8L563.1 629.9L564.7 637.5L566.3 648.6L567.9 665.1L568.9 683.1M574.3 683.1L574.3 682.5L575.9 676.5L577.5 676.6L579.2 681.6L579.4 683.1" stroke="#2f985c"/>
<path d="M550.5 683.1L551.9 676.8L553.5 675.3L555.1 680.4L555.3 683.1M560.5 683.1L561.5 664.6L563.1 648.4L564.7 637.7L566.3 630.5L567.9 625.8L569.5 623.2L571.1 622.5L572.7 623.6L574.3 626.5L575.9 631.4L577.5 638.5L579.2 648.5L580.8 662.8L582.2 683.1M588.5 683.1L588.8 681.4L590.4 678.4L592 679.8L593 683.1" stroke="#b42f2f"/>
</g>
<g stroke="#3a3a3a" stroke-width="0.5" fill="none">
<path d="M389.70 679.10v-4.3M389.70 499.40v4.3"/>
<path d="M401.74 679.10v-2.7M401.74 499.40v2.7"/>
<path d="M413.78 679.10v-2.7M413.78 499.40v2.7"/>
<path d="M425.82 679.10v-2.7M425.82 499.40v2.7"/>
<path d="M437.87 679.10v-4.3M437.87 499.40v4.3"/>
<path d="M449.91 679.10v-2.7M449.91 499.40v2.7"/>
<path d="M461.95 679.10v-2.7M461.95 499.40v2.7"/>
<path d="M473.99 679.10v-2.7M473.99 499.40v2.7"/>
<path d="M486.03 679.10v-4.3M486.03 499.40v4.3"/>
<path d="M498.07 679.10v-2.7M498.07 499.40v2.7"/>
<path d="M510.12 679.10v-2.7M510.12 499.40v2.7"/>
<path d="M522.16 679.10v-2.7M522.16 499.40v2.7"/>
<path d="M534.20 679.10v-4.3M534.20 499.40v4.3"/>
<path d="M546.24 679.10v-2.7M546.24 499.40v2.7"/>
<path d="M558.28 679.10v-2.7M558.28 499.40v2.7"/>
<path d="M570.33 679.10v-2.7M570.33 499.40v2.7"/>
<path d="M582.37 679.10v-4.3M582.37 499.40v4.3"/>
<path d="M594.41 679.10v-2.7M594.41 499.40v2.7"/>
<path d="M606.45 679.10v-2.7M606.45 499.40v2.7"/>
<path d="M618.49 679.10v-2.7M618.49 499.40v2.7"/>
<path d="M630.53 679.10v-4.3M630.53 499.40v4.3"/>
<path d="M642.58 679.10v-2.7M642.58 499.40v2.7"/>
<path d="M654.62 679.10v-2.7M654.62 499.40v2.7"/>
<path d="M666.66 679.10v-2.7M666.66 499.40v2.7"/>
<path d="M678.70 679.10v-4.3M678.70 499.40v4.3"/>
<path d="M389.70 679.10h2.7M678.70 679.10h-2.7"/>
<path d="M389.70 670.93h4.3M678.70 670.93h-4.3"/>
<path d="M389.70 662.76h2.7M678.70 662.76h-2.7"/>
<path d="M389.70 654.60h2.7M678.70 654.60h-2.7"/>
<path d="M389.70 646.43h2.7M678.70 646.43h-2.7"/>
<path d="M389.70 638.26h2.7M678.70 638.26h-2.7"/>
<path d="M389.70 630.09h4.3M678.70 630.09h-4.3"/>
<path d="M389.70 621.92h2.7M678.70 621.92h-2.7"/>
<path d="M389.70 613.75h2.7M678.70 613.75h-2.7"/>
<path d="M389.70 605.59h2.7M678.70 605.59h-2.7"/>
<path d="M389.70 597.42h2.7M678.70 597.42h-2.7"/>
<path d="M389.70 589.25h4.3M678.70 589.25h-4.3"/>
<path d="M389.70 581.08h2.7M678.70 581.08h-2.7"/>
<path d="M389.70 572.91h2.7M678.70 572.91h-2.7"/>
<path d="M389.70 564.75h2.7M678.70 564.75h-2.7"/>
<path d="M389.70 556.58h2.7M678.70 556.58h-2.7"/>
<path d="M389.70 548.41h4.3M678.70 548.41h-4.3"/>
<path d="M389.70 540.24h2.7M678.70 540.24h-2.7"/>
<path d="M389.70 532.07h2.7M678.70 532.07h-2.7"/>
<path d="M389.70 523.90h2.7M678.70 523.90h-2.7"/>
<path d="M389.70 515.74h2.7M678.70 515.74h-2.7"/>
<path d="M389.70 507.57h4.3M678.70 507.57h-4.3"/>
<path d="M389.70 499.40h2.7M678.70 499.40h-2.7"/>
</g>
<rect x="389.70" y="499.40" width="289.00" height="179.70" fill="none" stroke="#1c1c1c" stroke-width="1.2"/>
<text x="389.70" y="691.40" text-anchor="middle" font-size="12.0">−<tspan dx="2.0">90</tspan></text>
<text x="437.87" y="691.40" text-anchor="middle" font-size="12.0">−<tspan dx="2.0">60</tspan></text>
<text x="486.03" y="691.40" text-anchor="middle" font-size="12.0">−<tspan dx="2.0">30</tspan></text>
<text x="534.20" y="691.40" text-anchor="middle" font-size="12.0">0</text>
<text x="582.37" y="691.40" text-anchor="middle" font-size="12.0">30</text>
<text x="630.53" y="691.40" text-anchor="middle" font-size="12.0">60</text>
<text x="678.70" y="691.40" text-anchor="middle" font-size="12.0">90</text>
<text x="386.00" y="512.07" text-anchor="end" font-size="12.0">0</text>
<text x="386.00" y="552.91" text-anchor="end" font-size="12.0">−<tspan dx="2.0">10</tspan></text>
<text x="386.00" y="593.75" text-anchor="end" font-size="12.0">−<tspan dx="2.0">20</tspan></text>
<text x="386.00" y="634.59" text-anchor="end" font-size="12.0">−<tspan dx="2.0">30</tspan></text>
<text x="386.00" y="675.43" text-anchor="end" font-size="12.0">−<tspan dx="2.0">40</tspan></text>
<text x="359.20" y="589.75" text-anchor="middle" font-size="12.0" transform="rotate(-90 359.20 589.75)">Normalized Amplitude (dB)</text>
<text x="523.70" y="705.80" font-size="12.0"><tspan font-style="italic" font-size="13.6">θ</tspan><tspan dx="0.7">(</tspan><tspan font-size="8.5" dx="0.5" dy="-1">°</tspan><tspan dx="0.6" dy="1">)</tspan></text>
<text x="587.30" y="605.40" text-anchor="start" font-size="12.0">Harmonics</text>
<text x="465.8" y="517.4" font-size="12.0"><tspan font-style="italic" font-size="12.4">f</tspan><tspan font-size="9.4" dy="3.0" dx="-0.3">c</tspan></text>
<text x="2.3" y="19.3" font-size="20" font-weight="bold">a</text>
<text x="357.4" y="19.0" font-size="20" font-weight="bold">b</text>
<text x="-0.6" y="262.6" font-size="20" font-weight="bold">c</text>
<text x="357.2" y="267.8" font-size="20" font-weight="bold">d</text>
<text x="1.6" y="494.6" font-size="20" font-weight="bold">e</text>
<text x="358.6" y="494.6" font-size="20" font-weight="bold">f</text>
</svg>
</body>
</html>
